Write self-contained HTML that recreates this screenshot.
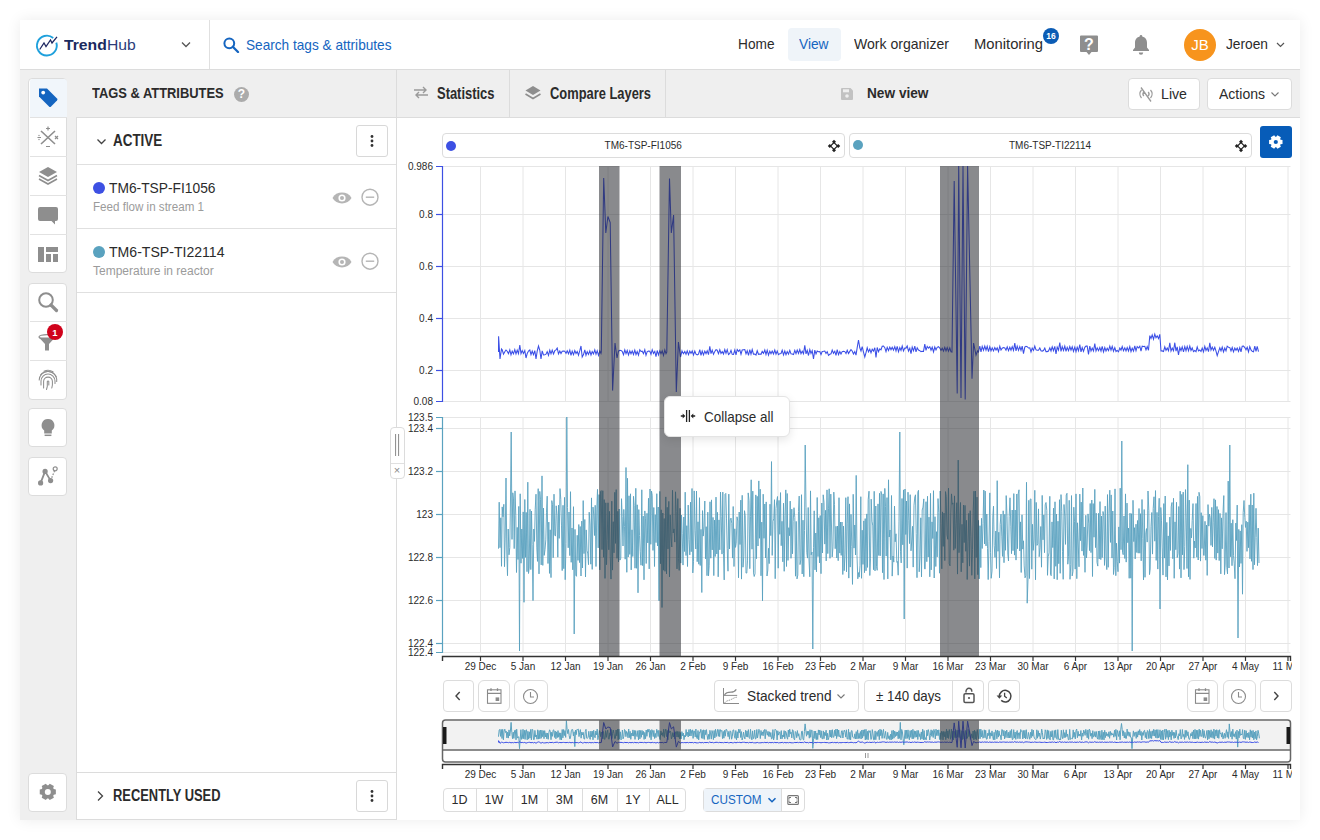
<!DOCTYPE html>
<html><head><meta charset="utf-8"><style>
html,body{margin:0;padding:0;}
body{width:1320px;height:840px;overflow:hidden;position:relative;background:#fff;font-family:"Liberation Sans",sans-serif;}
.t{position:absolute;white-space:nowrap;line-height:1;}
</style></head><body>
<div style="position:absolute;left:20px;top:20px;width:1280px;height:800px;box-sizing:border-box;background:#efefef;box-shadow:0 0 14px rgba(0,0,0,0.08);"></div>
<div style="position:absolute;left:20px;top:20px;width:1280px;height:49px;box-sizing:border-box;background:#fff;"></div>
<div style="position:absolute;left:20px;top:69px;width:1280px;height:1px;box-sizing:border-box;background:#dcdcdc;"></div>
<div style="position:absolute;left:209px;top:20px;width:1px;height:49px;box-sizing:border-box;background:#e0e0e0;"></div>
<svg style="position:absolute;left:34px;top:33px;" width="26" height="24" viewBox="0 0 26 24"><path d="M19.2 5.0 A9.9 9.9 0 1 0 22.3 9.6" fill="none" stroke="#1ea0dc" stroke-width="1.9"/><path d="M5.7 16.5 L10 10 L12 13.5 L16.5 7 L18 10 L23 3.8" fill="none" stroke="#1d2660" stroke-width="1.25" stroke-linejoin="miter"/></svg>
<div class="t" style="left:64.00px;top:37.00px;font-size:15px;color:#1b2a5e;font-weight:bold;transform:scaleX(1.0474);transform-origin:0 0;">Trend</div>
<div class="t" style="left:106.78px;top:37.00px;font-size:15px;color:#2b3c7a;transform:scaleX(1.0474);transform-origin:0 0;">Hub</div>
<svg style="position:absolute;left:180px;top:41px;" width="12" height="8" viewBox="0 0 12 8"><path d="M2 1.5 L6 5.5 L10 1.5" fill="none" stroke="#555" stroke-width="1.3"/></svg>
<svg style="position:absolute;left:223px;top:37px;" width="17" height="16" viewBox="0 0 17 16"><circle cx="6.3" cy="6.3" r="4.9" fill="none" stroke="#1565c0" stroke-width="2"/><path d="M9.8 9.8 L15 15" stroke="#1565c0" stroke-width="2.3" stroke-linecap="round"/></svg>
<div class="t" style="left:246.00px;top:37.00px;font-size:15px;color:#1565c0;transform:scaleX(0.9089);transform-origin:0 0;">Search tags &amp; attributes</div>
<div style="position:absolute;left:788px;top:28px;width:53px;height:33px;box-sizing:border-box;background:#eff4f9;border-radius:4px;"></div>
<div class="t" style="left:737.50px;top:35.50px;font-size:15px;color:#2b2b2b;transform:scaleX(0.9122);transform-origin:0 0;">Home</div>
<div class="t" style="left:799.00px;top:35.50px;font-size:15px;color:#1565c0;transform:scaleX(0.9149);transform-origin:0 0;">View</div>
<div class="t" style="left:854.00px;top:35.50px;font-size:15px;color:#2b2b2b;transform:scaleX(0.9366);transform-origin:0 0;">Work organizer</div>
<div class="t" style="left:974.00px;top:35.50px;font-size:15px;color:#2b2b2b;transform:scaleX(0.9852);transform-origin:0 0;">Monitoring</div>
<div style="position:absolute;left:1043px;top:28px;width:16px;height:16px;box-sizing:border-box;background:#0b5cb5;border-radius:50%;"></div>
<div class="t" style="left:1046.27px;top:32.30px;font-size:8.5px;color:#fff;font-weight:bold;">16</div>
<svg style="position:absolute;left:1079px;top:34px;" width="20" height="22" viewBox="0 0 20 22"><path d="M2 1.5 h16 a1 1 0 0 1 1 1 v14.5 a1 1 0 0 1 -1 1 h-5.5 l-2.5 3 l-2.5 -3 h-5.5 a1 1 0 0 1 -1 -1 v-14.5 a1 1 0 0 1 1 -1z" fill="#8e8e8e"/><text x="10" y="15.5" font-family="Liberation Sans" font-weight="bold" font-size="16" fill="#fff" text-anchor="middle">?</text></svg>
<svg style="position:absolute;left:1131px;top:34px;" width="20" height="22" viewBox="0 0 20 22"><path d="M10 2.5 c-3.8 0 -6 2.8 -6 6.3 v4.6 l-2 2.6 v1 h16 v-1 l-2 -2.6 v-4.6 c0 -3.5 -2.2 -6.3 -6 -6.3z" fill="#8e8e8e"/><circle cx="10" cy="2.3" r="1.3" fill="#8e8e8e"/><path d="M7.8 18.5 a2.2 2.2 0 0 0 4.4 0z" fill="#8e8e8e"/></svg>
<div style="position:absolute;left:1184px;top:29px;width:32px;height:32px;box-sizing:border-box;background:#f7941d;border-radius:50%;"></div>
<div class="t" style="left:1191.25px;top:36.90px;font-size:15px;color:#fff;">JB</div>
<div class="t" style="left:1226.00px;top:36.00px;font-size:15px;color:#2b2b2b;transform:scaleX(0.9157);transform-origin:0 0;">Jeroen</div>
<svg style="position:absolute;left:1275px;top:41px;" width="12" height="8" viewBox="0 0 12 8"><path d="M2 2 L5.5 5.5 L9 2" fill="none" stroke="#555" stroke-width="1.2"/></svg>
<div style="position:absolute;left:28px;top:78px;width:39.3px;height:195px;box-sizing:border-box;background:#fff;border:1px solid #dcdcdc;border-radius:4px;"></div>
<div style="position:absolute;left:30px;top:79px;width:37px;height:38px;box-sizing:border-box;background:#f1f6fb;border-radius:3px 3px 0 0;"></div>
<div style="position:absolute;left:30px;top:117px;width:37px;height:1px;box-sizing:border-box;background:#e2e2e2;"></div>
<div style="position:absolute;left:30px;top:156px;width:37px;height:1px;box-sizing:border-box;background:#e2e2e2;"></div>
<div style="position:absolute;left:30px;top:195px;width:37px;height:1px;box-sizing:border-box;background:#e2e2e2;"></div>
<div style="position:absolute;left:30px;top:234px;width:37px;height:1px;box-sizing:border-box;background:#e2e2e2;"></div>
<div style="position:absolute;left:28px;top:283px;width:39.3px;height:117px;box-sizing:border-box;background:#fff;border:1px solid #dcdcdc;border-radius:4px;"></div>
<div style="position:absolute;left:30px;top:321px;width:37px;height:1px;box-sizing:border-box;background:#e2e2e2;"></div>
<div style="position:absolute;left:30px;top:360px;width:37px;height:1px;box-sizing:border-box;background:#e2e2e2;"></div>
<div style="position:absolute;left:28px;top:408px;width:39.3px;height:39px;box-sizing:border-box;background:#fff;border:1px solid #dcdcdc;border-radius:4px;"></div>
<div style="position:absolute;left:28px;top:457px;width:39.3px;height:39px;box-sizing:border-box;background:#fff;border:1px solid #dcdcdc;border-radius:4px;"></div>
<div style="position:absolute;left:28px;top:772.5px;width:39.3px;height:39px;box-sizing:border-box;background:#fff;border:1px solid #dcdcdc;border-radius:4px;"></div>
<svg style="position:absolute;left:36px;top:85px;" width="24" height="24" viewBox="0 0 24 24"><path d="M3 3.5 h8 l10 10 a1.5 1.5 0 0 1 0 2.1 l-5.9 5.9 a1.5 1.5 0 0 1 -2.1 0 l-10 -10 v-8z" fill="#1565c0" transform="rotate(0)"/><circle cx="7.2" cy="7.6" r="1.9" fill="#fff"/></svg>
<svg style="position:absolute;left:36px;top:125px;" width="24" height="24" viewBox="0 0 24 24"><path d="M5 6 L19 19 M19 6 L5 19" stroke="#8e8e8e" stroke-width="1.6"/><path d="M12 1.5 v4 M10 3.5 h4 M10 21.5 h4 M1.5 12.5 h3.5 M19 11 l3 3 M22 11 l-3 3" stroke="#8e8e8e" stroke-width="1.2"/><circle cx="3" cy="10.5" r=".7" fill="#8e8e8e"/><circle cx="3" cy="14.5" r=".7" fill="#8e8e8e"/></svg>
<svg style="position:absolute;left:36px;top:164px;" width="24" height="24" viewBox="0 0 24 24"><path d="M12 3 L21 8 L12 13 L3 8z" fill="#8e8e8e"/><path d="M3 11.5 L12 16.5 L21 11.5 M3 15 L12 20 L21 15" fill="none" stroke="#8e8e8e" stroke-width="1.6"/></svg>
<svg style="position:absolute;left:36px;top:203px;" width="24" height="24" viewBox="0 0 24 24"><path d="M4 4 h16 a2 2 0 0 1 2 2 v10 a2 2 0 0 1 -2 2 h-1 v3.5 l-3.5 -3.5 h-11.5 a2 2 0 0 1 -2 -2 v-10 a2 2 0 0 1 2 -2z" fill="#8e8e8e"/></svg>
<svg style="position:absolute;left:36px;top:242px;" width="24" height="24" viewBox="0 0 24 24"><path d="M2 5 h6 v15 h-6z M10 5 h12 v5 h-12z M10 12 h5 v8 h-5z M17 12 h5 v8 h-5z" fill="#8e8e8e"/></svg>
<svg style="position:absolute;left:36px;top:290px;" width="24" height="24" viewBox="0 0 24 24"><circle cx="10" cy="10" r="6.8" fill="none" stroke="#8e8e8e" stroke-width="2"/><path d="M15 15 L20.5 20.5" stroke="#8e8e8e" stroke-width="3.2" stroke-linecap="round"/></svg>
<svg style="position:absolute;left:36px;top:329px;" width="24" height="24" viewBox="0 0 24 24"><ellipse cx="11" cy="8" rx="8" ry="2.3" fill="none" stroke="#8e8e8e" stroke-width="1.3"/><path d="M3 8.5 L9 15 v6.5 h4 v-6.5 L19 8.5z" fill="#8e8e8e"/></svg>
<div style="position:absolute;left:47px;top:324px;width:16px;height:16px;box-sizing:border-box;background:#d0021b;border-radius:50%;"></div>
<div class="t" style="left:52.36px;top:327.96px;font-size:9.5px;color:#fff;font-weight:bold;">1</div>
<svg style="position:absolute;left:36px;top:368px;" width="24" height="24" viewBox="0 0 24 24"><g fill="none" stroke="#8e8e8e" stroke-width="1.05" stroke-linecap="round"><path d="M8 3.2 a9 8 0 0 1 9 0.6"/><path d="M4.5 7 a9 8.5 0 0 1 15.5 1.5"/><path d="M3.2 12 a8.8 8.8 0 0 1 17.5 -1 v2.5"/><path d="M5 17 v-4 a7 7 0 0 1 14 0 v2.5"/><path d="M7.6 20 v-6.5 a4.4 4.4 0 0 1 8.8 0 v3.5 l-0.6 3"/><path d="M10.5 21.5 l0.8 -3 v-5 a0.8 0.8 0 0 1 1.5 0 v3.5"/></g></svg>
<svg style="position:absolute;left:36px;top:416px;" width="24" height="24" viewBox="0 0 24 24"><path d="M12 3 a6.3 6.3 0 0 0 -3.8 11.4 v3 h7.6 v-3 A6.3 6.3 0 0 0 12 3z" fill="#8e8e8e"/><path d="M8.6 19.3 h6.8" stroke="#8e8e8e" stroke-width="1.5"/></svg>
<svg style="position:absolute;left:36px;top:465px;" width="24" height="24" viewBox="0 0 24 24"><path d="M4.6 17.9 L9.1 6.4 L14.6 15.6" fill="none" stroke="#8e8e8e" stroke-width="1.8"/><path d="M14.6 15.6 L18.5 6" fill="none" stroke="#8e8e8e" stroke-width="1.2" stroke-dasharray="1.6 1.4"/><circle cx="4.6" cy="17.9" r="2.6" fill="#8e8e8e"/><circle cx="9.1" cy="6.4" r="2.6" fill="#8e8e8e"/><circle cx="14.6" cy="15.6" r="2.6" fill="#8e8e8e"/><circle cx="19.2" cy="3.8" r="2" fill="none" stroke="#8e8e8e" stroke-width="1.2"/></svg>
<svg style="position:absolute;left:36px;top:780px;" width="24" height="24" viewBox="0 0 24 24"><path d="M17.79 9.12 L19.85 9.51 L19.85 14.29 L17.79 14.68 L17.20 15.70 L17.89 17.68 L13.76 20.07 L12.39 18.47 L11.21 18.47 L9.84 20.07 L5.71 17.68 L6.40 15.70 L5.81 14.68 L3.75 14.29 L3.75 9.51 L5.81 9.12 L6.40 8.10 L5.71 6.12 L9.84 3.73 L11.21 5.33 L12.39 5.33 L13.76 3.73 L17.89 6.12 L17.20 8.10Z" fill="#8e8e8e"/><circle cx="11.8" cy="11.9" r="3" fill="#fff"/></svg>
<div class="t" style="left:92.30px;top:84.98px;font-size:15.5px;color:#2b2b2b;font-weight:bold;transform:scaleX(0.8327);transform-origin:0 0;">TAGS &amp; ATTRIBUTES</div>
<div style="position:absolute;left:234px;top:86.5px;width:15px;height:15px;box-sizing:border-box;background:#ababab;border-radius:50%;"></div>
<div class="t" style="left:237.83px;top:88.34px;font-size:12px;color:#fff;font-weight:bold;">?</div>
<div style="position:absolute;left:76px;top:117px;width:321px;height:703px;box-sizing:border-box;background:#fff;border:1px solid #dcdcdc;border-right:1px solid #dcdcdc;"></div>
<div style="position:absolute;left:77px;top:164px;width:319px;height:1px;box-sizing:border-box;background:#e0e0e0;"></div>
<div style="position:absolute;left:77px;top:228px;width:319px;height:1px;box-sizing:border-box;background:#e0e0e0;"></div>
<div style="position:absolute;left:77px;top:292px;width:319px;height:1px;box-sizing:border-box;background:#e0e0e0;"></div>
<svg style="position:absolute;left:95.5px;top:137.5px;" width="12" height="8" viewBox="0 0 12 8"><path d="M1.5 1.5 L5.5 5.5 L9.5 1.5" fill="none" stroke="#444" stroke-width="1.3"/></svg>
<div class="t" style="left:113.00px;top:133.06px;font-size:16px;color:#2b2b2b;font-weight:bold;transform:scaleX(0.8385);transform-origin:0 0;">ACTIVE</div>
<div style="position:absolute;left:356px;top:125px;width:32px;height:32px;box-sizing:border-box;background:#fff;border:1px solid #d8d8d8;border-radius:3px;"></div>
<svg style="position:absolute;left:368px;top:134px;" width="8" height="14" viewBox="0 0 8 14"><circle cx="4" cy="2.5" r="1.4" fill="#333"/><circle cx="4" cy="7" r="1.4" fill="#333"/><circle cx="4" cy="11.5" r="1.4" fill="#333"/></svg>
<div style="position:absolute;left:93px;top:182px;width:12px;height:12px;box-sizing:border-box;background:#3d50e3;border-radius:50%;"></div>
<div class="t" style="left:109.00px;top:179.90px;font-size:15px;color:#2b2b2b;transform:scaleX(0.9192);transform-origin:0 0;">TM6-TSP-FI1056</div>
<div class="t" style="left:93.00px;top:201.14px;font-size:12px;color:#9b9b9b;transform:scaleX(0.9676);transform-origin:0 0;">Feed flow in stream 1</div>
<svg style="position:absolute;left:331px;top:189px;" width="22" height="18" viewBox="0 0 22 18"><path d="M1.5 9 C5 1.8 17 1.8 20.5 9 C17 16.2 5 16.2 1.5 9z" fill="#b5b5b5"/><circle cx="11" cy="9" r="3.6" fill="#fff"/><circle cx="11" cy="9" r="2" fill="#b5b5b5"/></svg>
<svg style="position:absolute;left:361px;top:188px;" width="18" height="18" viewBox="0 0 18 18"><circle cx="9" cy="9.2" r="8" fill="none" stroke="#b5b5b5" stroke-width="1.4"/><path d="M4.8 9.2 h8.4" stroke="#b5b5b5" stroke-width="1.4"/></svg>
<div style="position:absolute;left:93px;top:246px;width:12px;height:12px;box-sizing:border-box;background:#5aa2bf;border-radius:50%;"></div>
<div class="t" style="left:109.00px;top:243.90px;font-size:15px;color:#2b2b2b;transform:scaleX(0.9383);transform-origin:0 0;">TM6-TSP-TI22114</div>
<div class="t" style="left:93.00px;top:265.14px;font-size:12px;color:#9b9b9b;">Temperature in reactor</div>
<svg style="position:absolute;left:331px;top:253px;" width="22" height="18" viewBox="0 0 22 18"><path d="M1.5 9 C5 1.8 17 1.8 20.5 9 C17 16.2 5 16.2 1.5 9z" fill="#b5b5b5"/><circle cx="11" cy="9" r="3.6" fill="#fff"/><circle cx="11" cy="9" r="2" fill="#b5b5b5"/></svg>
<svg style="position:absolute;left:361px;top:252px;" width="18" height="18" viewBox="0 0 18 18"><circle cx="9" cy="9.2" r="8" fill="none" stroke="#b5b5b5" stroke-width="1.4"/><path d="M4.8 9.2 h8.4" stroke="#b5b5b5" stroke-width="1.4"/></svg>
<div style="position:absolute;left:77px;top:772px;width:319px;height:1px;box-sizing:border-box;background:#dcdcdc;"></div>
<svg style="position:absolute;left:96px;top:790px;" width="10" height="12" viewBox="0 0 10 12"><path d="M2 1.5 L6.5 6 L2 10.5" fill="none" stroke="#444" stroke-width="1.3"/></svg>
<div class="t" style="left:113.00px;top:788.06px;font-size:16px;color:#2b2b2b;font-weight:bold;transform:scaleX(0.8060);transform-origin:0 0;">RECENTLY USED</div>
<div style="position:absolute;left:356px;top:780px;width:32px;height:32px;box-sizing:border-box;background:#fff;border:1px solid #d8d8d8;border-radius:3px;"></div>
<svg style="position:absolute;left:368px;top:789px;" width="8" height="14" viewBox="0 0 8 14"><circle cx="4" cy="2.5" r="1.4" fill="#333"/><circle cx="4" cy="7" r="1.4" fill="#333"/><circle cx="4" cy="11.5" r="1.4" fill="#333"/></svg>
<div style="position:absolute;left:396px;top:69px;width:1px;height:48px;box-sizing:border-box;background:#dcdcdc;"></div>
<div style="position:absolute;left:509px;top:69px;width:1px;height:48px;box-sizing:border-box;background:#dcdcdc;"></div>
<div style="position:absolute;left:665px;top:69px;width:1px;height:48px;box-sizing:border-box;background:#dcdcdc;"></div>
<div style="position:absolute;left:397px;top:117px;width:903px;height:1px;box-sizing:border-box;background:#dcdcdc;"></div>
<svg style="position:absolute;left:412px;top:85px;" width="18" height="14" viewBox="0 0 18 14"><path d="M2 5 h12 M11 2 l3 3 -3 3 M16 10 h-12 M7 7 l-3 3 3 3" fill="none" stroke="#9a9a9a" stroke-width="1.4"/></svg>
<div class="t" style="left:437.00px;top:86.46px;font-size:16px;color:#2b2b2b;font-weight:bold;transform:scaleX(0.8082);transform-origin:0 0;">Statistics</div>
<svg style="position:absolute;left:524px;top:84px;" width="18" height="18" viewBox="0 0 18 18"><path d="M9 2 L16.5 6.5 L9 11 L1.5 6.5z" fill="#8e8e8e"/><path d="M1.5 10 L9 14.5 L16.5 10" fill="none" stroke="#8e8e8e" stroke-width="1.6"/></svg>
<div class="t" style="left:549.50px;top:86.46px;font-size:16px;color:#2b2b2b;font-weight:bold;transform:scaleX(0.8055);transform-origin:0 0;">Compare Layers</div>
<svg style="position:absolute;left:840px;top:87px;" width="14" height="14" viewBox="0 0 14 14"><path d="M2 1 h8.5 l2.5 2.5 v8.5 a1 1 0 0 1 -1 1 h-10 a1 1 0 0 1 -1 -1 v-10 a1 1 0 0 1 1 -1z" fill="#c2c2c2"/><rect x="3" y="2.3" width="6" height="3" fill="#efefef"/><circle cx="7" cy="9" r="1.8" fill="#efefef"/></svg>
<div class="t" style="left:867.00px;top:84.88px;font-size:15.5px;color:#2b2b2b;font-weight:bold;transform:scaleX(0.8813);transform-origin:0 0;">New view</div>
<div style="position:absolute;left:1128px;top:78px;width:72px;height:32px;box-sizing:border-box;background:#fff;border:1px solid #dcdcdc;border-radius:4px;"></div>
<svg style="position:absolute;left:1137px;top:86px;" width="18" height="17" viewBox="0 0 18 17"><path d="M4.5 4 a6 6 0 0 0 0 8 M13.5 4 a6 6 0 0 1 0 8 M6.8 6 a3 3 0 0 0 0 4 M11.2 6 a3 3 0 0 1 0 4 M4 1.5 L14 15.5" fill="none" stroke="#9a9a9a" stroke-width="1.3"/></svg>
<div class="t" style="left:1161.00px;top:86.30px;font-size:15px;color:#2b2b2b;transform:scaleX(0.9448);transform-origin:0 0;">Live</div>
<div style="position:absolute;left:1207px;top:78px;width:85px;height:32px;box-sizing:border-box;background:#fff;border:1px solid #dcdcdc;border-radius:4px;"></div>
<div class="t" style="left:1219.00px;top:86.30px;font-size:15px;color:#2b2b2b;transform:scaleX(0.9351);transform-origin:0 0;">Actions</div>
<svg style="position:absolute;left:1270px;top:91px;" width="10" height="7" viewBox="0 0 10 7"><path d="M1.5 1.5 L5 5 L8.5 1.5" fill="none" stroke="#777" stroke-width="1.1"/></svg>
<div style="position:absolute;left:397px;top:118px;width:903px;height:702px;box-sizing:border-box;background:#fff;"></div>
<div style="position:absolute;left:441.7px;top:133.2px;width:403.5px;height:24.5px;box-sizing:border-box;background:#fff;border:1px solid #dcdcdc;border-radius:4px;"></div>
<div style="position:absolute;left:848.8px;top:133.2px;width:403.5px;height:24.5px;box-sizing:border-box;background:#fff;border:1px solid #dcdcdc;border-radius:4px;"></div>
<div style="position:absolute;left:446px;top:140.5px;width:10px;height:10px;box-sizing:border-box;background:#3d50e3;border-radius:50%;"></div>
<div style="position:absolute;left:853px;top:140.3px;width:10px;height:10px;box-sizing:border-box;background:#5aa2bf;border-radius:50%;"></div>
<div class="t" style="left:604.58px;top:140.53px;font-size:10px;color:#2b2b2b;">TM6-TSP-FI1056</div>
<div class="t" style="left:1008.97px;top:140.53px;font-size:10px;color:#2b2b2b;">TM6-TSP-TI22114</div>
<svg style="position:absolute;left:826.6px;top:138.9px;" width="14" height="14" viewBox="0 0 14 14"><path d="M7 3.5 L3.5 7 L7 10.5 L10.5 7z" fill="none" stroke="#222" stroke-width="1.1"/><path d="M7 0.8 L9 2.8 L7 4.8 L5 2.8z M7 9.2 L9 11.2 L7 13.2 L5 11.2z M0.8 7 L2.8 5 L4.8 7 L2.8 9z M9.2 7 L11.2 5 L13.2 7 L11.2 9z" fill="#222"/></svg>
<svg style="position:absolute;left:1233.8px;top:138.8px;" width="14" height="14" viewBox="0 0 14 14"><path d="M7 3.5 L3.5 7 L7 10.5 L10.5 7z" fill="none" stroke="#222" stroke-width="1.1"/><path d="M7 0.8 L9 2.8 L7 4.8 L5 2.8z M7 9.2 L9 11.2 L7 13.2 L5 11.2z M0.8 7 L2.8 5 L4.8 7 L2.8 9z M9.2 7 L11.2 5 L13.2 7 L11.2 9z" fill="#222"/></svg>
<div style="position:absolute;left:1260px;top:126px;width:32px;height:32px;box-sizing:border-box;background:#075cb8;border-radius:3px;"></div>
<svg style="position:absolute;left:1267px;top:133px;" width="18" height="18" viewBox="0 0 18 18"><path d="M13.61 6.77 L15.51 7.01 L15.51 10.99 L13.61 11.23 L13.14 12.05 L13.88 13.82 L10.43 15.81 L9.27 14.28 L8.33 14.28 L7.17 15.81 L3.72 13.82 L4.46 12.05 L3.99 11.23 L2.09 10.99 L2.09 7.01 L3.99 6.77 L4.46 5.95 L3.72 4.18 L7.17 2.19 L8.33 3.72 L9.27 3.72 L10.43 2.19 L13.88 4.18 L13.14 5.95Z" fill="#fff"/><circle cx="8.8" cy="9" r="2.1" fill="#075cb8"/></svg>
<svg style="position:absolute;left:0px;top:0px;pointer-events:none;" width="1320" height="840" viewBox="0 0 1320 840"><line x1="442.5" y1="166.5" x2="1290.5" y2="166.5" stroke="#e6e6e6" stroke-width="1"/><line x1="442.5" y1="214.5" x2="1290.5" y2="214.5" stroke="#e6e6e6" stroke-width="1"/><line x1="442.5" y1="266.5" x2="1290.5" y2="266.5" stroke="#e6e6e6" stroke-width="1"/><line x1="442.5" y1="318.5" x2="1290.5" y2="318.5" stroke="#e6e6e6" stroke-width="1"/><line x1="442.5" y1="370.5" x2="1290.5" y2="370.5" stroke="#e6e6e6" stroke-width="1"/><line x1="442.5" y1="401.5" x2="1290.5" y2="401.5" stroke="#e6e6e6" stroke-width="1"/><line x1="442.5" y1="417.5" x2="1290.5" y2="417.5" stroke="#e6e6e6" stroke-width="1"/><line x1="442.5" y1="428.5" x2="1290.5" y2="428.5" stroke="#e6e6e6" stroke-width="1"/><line x1="442.5" y1="471.5" x2="1290.5" y2="471.5" stroke="#e6e6e6" stroke-width="1"/><line x1="442.5" y1="514.5" x2="1290.5" y2="514.5" stroke="#e6e6e6" stroke-width="1"/><line x1="442.5" y1="557.5" x2="1290.5" y2="557.5" stroke="#e6e6e6" stroke-width="1"/><line x1="442.5" y1="600.5" x2="1290.5" y2="600.5" stroke="#e6e6e6" stroke-width="1"/><line x1="442.5" y1="643.5" x2="1290.5" y2="643.5" stroke="#e6e6e6" stroke-width="1"/><line x1="442.5" y1="652.5" x2="1290.5" y2="652.5" stroke="#e6e6e6" stroke-width="1"/><line x1="480.5" y1="166.5" x2="480.5" y2="401.5" stroke="#e6e6e6" stroke-width="1"/><line x1="480.5" y1="417.5" x2="480.5" y2="652.5" stroke="#e6e6e6" stroke-width="1"/><line x1="523.0" y1="166.5" x2="523.0" y2="401.5" stroke="#e6e6e6" stroke-width="1"/><line x1="523.0" y1="417.5" x2="523.0" y2="652.5" stroke="#e6e6e6" stroke-width="1"/><line x1="565.5" y1="166.5" x2="565.5" y2="401.5" stroke="#e6e6e6" stroke-width="1"/><line x1="565.5" y1="417.5" x2="565.5" y2="652.5" stroke="#e6e6e6" stroke-width="1"/><line x1="608.0" y1="166.5" x2="608.0" y2="401.5" stroke="#e6e6e6" stroke-width="1"/><line x1="608.0" y1="417.5" x2="608.0" y2="652.5" stroke="#e6e6e6" stroke-width="1"/><line x1="650.5" y1="166.5" x2="650.5" y2="401.5" stroke="#e6e6e6" stroke-width="1"/><line x1="650.5" y1="417.5" x2="650.5" y2="652.5" stroke="#e6e6e6" stroke-width="1"/><line x1="693.0" y1="166.5" x2="693.0" y2="401.5" stroke="#e6e6e6" stroke-width="1"/><line x1="693.0" y1="417.5" x2="693.0" y2="652.5" stroke="#e6e6e6" stroke-width="1"/><line x1="735.5" y1="166.5" x2="735.5" y2="401.5" stroke="#e6e6e6" stroke-width="1"/><line x1="735.5" y1="417.5" x2="735.5" y2="652.5" stroke="#e6e6e6" stroke-width="1"/><line x1="778.0" y1="166.5" x2="778.0" y2="401.5" stroke="#e6e6e6" stroke-width="1"/><line x1="778.0" y1="417.5" x2="778.0" y2="652.5" stroke="#e6e6e6" stroke-width="1"/><line x1="820.5" y1="166.5" x2="820.5" y2="401.5" stroke="#e6e6e6" stroke-width="1"/><line x1="820.5" y1="417.5" x2="820.5" y2="652.5" stroke="#e6e6e6" stroke-width="1"/><line x1="863.0" y1="166.5" x2="863.0" y2="401.5" stroke="#e6e6e6" stroke-width="1"/><line x1="863.0" y1="417.5" x2="863.0" y2="652.5" stroke="#e6e6e6" stroke-width="1"/><line x1="905.5" y1="166.5" x2="905.5" y2="401.5" stroke="#e6e6e6" stroke-width="1"/><line x1="905.5" y1="417.5" x2="905.5" y2="652.5" stroke="#e6e6e6" stroke-width="1"/><line x1="948.0" y1="166.5" x2="948.0" y2="401.5" stroke="#e6e6e6" stroke-width="1"/><line x1="948.0" y1="417.5" x2="948.0" y2="652.5" stroke="#e6e6e6" stroke-width="1"/><line x1="990.5" y1="166.5" x2="990.5" y2="401.5" stroke="#e6e6e6" stroke-width="1"/><line x1="990.5" y1="417.5" x2="990.5" y2="652.5" stroke="#e6e6e6" stroke-width="1"/><line x1="1033.0" y1="166.5" x2="1033.0" y2="401.5" stroke="#e6e6e6" stroke-width="1"/><line x1="1033.0" y1="417.5" x2="1033.0" y2="652.5" stroke="#e6e6e6" stroke-width="1"/><line x1="1075.5" y1="166.5" x2="1075.5" y2="401.5" stroke="#e6e6e6" stroke-width="1"/><line x1="1075.5" y1="417.5" x2="1075.5" y2="652.5" stroke="#e6e6e6" stroke-width="1"/><line x1="1118.0" y1="166.5" x2="1118.0" y2="401.5" stroke="#e6e6e6" stroke-width="1"/><line x1="1118.0" y1="417.5" x2="1118.0" y2="652.5" stroke="#e6e6e6" stroke-width="1"/><line x1="1160.5" y1="166.5" x2="1160.5" y2="401.5" stroke="#e6e6e6" stroke-width="1"/><line x1="1160.5" y1="417.5" x2="1160.5" y2="652.5" stroke="#e6e6e6" stroke-width="1"/><line x1="1203.0" y1="166.5" x2="1203.0" y2="401.5" stroke="#e6e6e6" stroke-width="1"/><line x1="1203.0" y1="417.5" x2="1203.0" y2="652.5" stroke="#e6e6e6" stroke-width="1"/><line x1="1245.5" y1="166.5" x2="1245.5" y2="401.5" stroke="#e6e6e6" stroke-width="1"/><line x1="1245.5" y1="417.5" x2="1245.5" y2="652.5" stroke="#e6e6e6" stroke-width="1"/><line x1="1288.0" y1="166.5" x2="1288.0" y2="401.5" stroke="#e6e6e6" stroke-width="1"/><line x1="1288.0" y1="417.5" x2="1288.0" y2="652.5" stroke="#e6e6e6" stroke-width="1"/><path d="M498.5 352.0 L498.6 336.3 L500.0 359.0 L501.5 349.0 L502.2 349.8 L503.5 354.2 L504.8 351.7 L506.0 350.0 L507.2 351.2 L508.5 353.6 L509.8 349.9 L511.0 354.8 L512.2 351.2 L513.5 353.9 L514.8 349.6 L516.0 353.9 L517.2 350.2 L518.5 353.6 L519.8 345.0 L521.0 353.6 L522.2 350.6 L523.5 353.4 L524.8 350.5 L526.0 358.0 L527.2 353.5 L528.5 351.1 L529.8 350.0 L531.0 354.6 L532.2 351.0 L533.5 354.7 L534.8 350.7 L536.0 358.8 L537.2 351.1 L538.5 346.0 L539.8 350.3 L541.0 359.0 L542.2 350.9 L543.5 354.9 L544.8 354.8 L546.0 354.2 L547.2 351.6 L548.5 355.4 L549.8 350.1 L551.0 353.8 L552.2 350.1 L553.5 353.9 L554.8 350.7 L556.0 349.8 L557.2 348.1 L558.5 353.9 L559.8 351.0 L561.0 353.5 L562.2 351.2 L563.5 351.1 L564.8 351.3 L566.0 353.4 L567.2 350.7 L568.5 353.8 L569.8 350.1 L571.0 355.3 L572.2 351.1 L573.5 354.6 L574.8 350.6 L576.0 353.5 L577.2 351.4 L578.5 355.2 L579.8 350.7 L581.0 346.0 L582.2 357.0 L583.5 354.6 L584.8 349.8 L586.0 355.2 L587.2 351.7 L588.5 354.4 L589.8 350.9 L591.0 355.0 L592.2 351.5 L593.5 353.9 L594.8 349.9 L596.0 354.3 L597.2 350.7 L598.5 355.4 L599.8 351.0 L601.0 353.4 L601.3 352.0 L603.7 178.0 L605.8 233.0 L607.9 216.5 L610.2 222.5 L612.6 390.6 L615.0 343.0 L617.0 358.0 L618.5 351.0 L619.8 350.4 L621.0 350.6 L622.2 351.3 L623.5 354.7 L624.8 349.9 L626.0 353.6 L627.2 350.5 L628.5 354.9 L629.8 350.8 L631.0 353.9 L632.2 350.9 L633.5 354.5 L634.8 350.2 L636.0 354.5 L637.2 351.5 L638.5 355.1 L639.8 349.7 L641.0 351.5 L642.2 351.2 L643.5 353.7 L644.8 349.8 L646.0 355.3 L647.2 351.6 L648.5 351.0 L649.8 351.3 L651.0 354.3 L652.2 349.7 L653.5 353.5 L654.8 351.3 L656.0 356.6 L657.2 350.5 L658.5 354.9 L659.8 350.7 L661.0 353.6 L662.2 350.9 L663.5 355.5 L664.8 350.0 L666.0 353.6 L666.8 352.0 L669.5 178.5 L671.3 233.0 L673.6 215.0 L676.3 392.0 L678.4 342.0 L680.5 357.0 L682.0 351.0 L682.2 351.6 L683.5 353.8 L684.8 351.4 L686.0 354.3 L687.2 350.9 L688.5 354.6 L689.8 351.1 L691.0 353.4 L692.2 351.0 L693.5 355.0 L694.8 351.1 L696.0 354.2 L697.2 355.0 L698.5 354.2 L699.8 349.7 L701.0 355.3 L702.2 351.0 L703.5 354.9 L704.8 351.1 L706.0 353.6 L707.2 350.7 L708.5 354.6 L709.8 346.3 L711.0 353.6 L712.2 350.1 L713.5 354.3 L714.8 351.4 L716.0 349.6 L717.2 350.2 L718.5 353.6 L719.8 349.7 L721.0 353.5 L722.2 351.5 L723.5 354.0 L724.8 349.6 L726.0 353.4 L727.2 349.7 L728.5 354.6 L729.8 353.4 L731.0 350.4 L732.2 354.3 L733.5 354.5 L734.8 350.1 L736.0 354.8 L737.2 349.5 L738.5 351.4 L739.8 349.9 L741.0 354.2 L742.2 350.0 L743.5 349.7 L744.8 349.5 L746.0 353.9 L747.2 350.7 L748.5 355.4 L749.8 349.6 L751.0 354.1 L752.2 349.6 L753.5 354.2 L754.8 354.1 L756.0 355.0 L757.2 350.7 L758.5 354.3 L759.8 354.1 L761.0 354.3 L762.2 351.4 L763.5 353.4 L764.8 350.0 L766.0 354.5 L767.2 350.2 L768.5 355.1 L769.8 351.2 L771.0 353.8 L772.2 351.1 L773.5 354.0 L774.8 350.0 L776.0 354.1 L777.2 351.0 L778.5 354.7 L779.8 353.7 L781.0 353.5 L782.2 350.2 L783.5 355.0 L784.8 351.0 L786.0 354.7 L787.2 351.6 L788.5 354.2 L789.8 350.4 L791.0 353.9 L792.2 354.1 L793.5 354.6 L794.8 350.4 L796.0 353.6 L797.2 350.1 L798.5 353.5 L799.8 349.6 L801.0 353.7 L802.2 351.1 L803.5 353.7 L804.8 345.4 L806.0 353.9 L807.2 350.4 L808.5 355.5 L809.8 349.6 L811.0 353.4 L812.2 350.6 L813.5 359.0 L814.8 350.2 L816.0 354.0 L817.2 351.0 L818.5 351.7 L819.8 351.6 L821.0 354.5 L822.2 351.5 L823.5 351.3 L824.8 351.0 L826.0 353.5 L827.2 351.6 L828.5 355.3 L829.8 354.3 L831.0 353.8 L832.2 350.1 L833.5 353.3 L834.8 351.2 L836.0 355.4 L837.2 349.7 L838.5 354.7 L839.8 351.5 L841.0 354.0 L842.2 351.6 L843.5 351.2 L844.8 351.6 L846.0 353.6 L847.2 350.3 L848.5 353.5 L849.8 351.4 L851.0 349.7 L852.2 351.0 L853.5 354.0 L854.8 351.5 L856.0 355.1 L857.2 347.7 L858.5 340.0 L859.8 347.8 L861.0 351.0 L862.2 346.6 L863.5 352.1 L864.8 357.0 L866.0 352.6 L867.2 347.8 L868.5 351.9 L869.8 349.2 L871.0 352.8 L872.2 349.1 L873.5 351.1 L874.8 347.7 L876.0 357.4 L877.2 347.5 L878.5 351.8 L879.8 348.8 L881.0 349.9 L882.2 346.3 L883.5 346.0 L884.8 347.7 L886.0 351.7 L887.2 347.3 L888.5 350.5 L889.8 347.1 L891.0 349.8 L892.2 347.2 L893.5 350.2 L894.8 346.6 L896.0 350.9 L897.2 346.3 L898.5 351.8 L899.8 347.5 L901.0 350.4 L902.2 346.1 L903.5 350.9 L904.8 348.0 L906.0 348.1 L907.2 346.0 L908.5 351.1 L909.8 348.1 L911.0 353.7 L912.2 347.1 L913.5 350.8 L914.8 346.1 L916.0 351.9 L917.2 347.9 L918.5 350.1 L919.8 350.7 L921.0 351.6 L922.2 351.2 L923.5 351.4 L924.8 344.1 L926.0 350.3 L927.2 346.4 L928.5 348.2 L929.8 346.7 L931.0 350.2 L932.2 347.2 L933.5 351.9 L934.8 347.0 L936.0 349.9 L937.2 347.3 L938.5 346.7 L939.8 348.1 L941.0 350.4 L942.2 348.2 L943.5 351.0 L944.8 347.4 L946.0 350.9 L947.2 347.5 L948.5 351.2 L949.8 347.8 L951.0 351.8 L952.0 352.0 L954.2 181.0 L957.2 393.6 L958.7 166.0 L961.0 398.0 L963.0 166.0 L965.2 399.6 L967.6 166.0 L972.0 378.8 L973.6 343.0 L976.0 355.0 L977.5 351.0 L978.5 351.9 L979.8 346.0 L981.0 351.8 L982.2 346.4 L983.5 350.2 L984.8 346.1 L986.0 350.2 L987.2 346.3 L988.5 351.7 L989.8 346.8 L991.0 350.9 L992.2 347.8 L993.5 350.9 L994.8 347.6 L996.0 350.1 L997.2 347.9 L998.5 351.6 L999.8 346.2 L1001.0 350.1 L1002.2 348.2 L1003.5 347.6 L1004.8 347.9 L1006.0 350.2 L1007.2 346.9 L1008.5 350.7 L1009.8 347.3 L1011.0 350.3 L1012.2 346.7 L1013.5 350.4 L1014.8 343.1 L1016.0 350.8 L1017.2 346.2 L1018.5 350.3 L1019.8 346.6 L1021.0 350.5 L1022.2 346.2 L1023.5 353.7 L1024.8 347.1 L1026.0 346.3 L1027.2 346.7 L1028.5 348.0 L1029.8 347.9 L1031.0 352.0 L1032.2 348.1 L1033.5 350.5 L1034.8 346.1 L1036.0 349.8 L1037.2 350.2 L1038.5 350.3 L1039.8 348.0 L1041.0 350.8 L1042.2 351.1 L1043.5 350.5 L1044.8 348.0 L1046.0 351.6 L1047.2 351.6 L1048.5 351.0 L1049.8 347.9 L1051.0 351.0 L1052.2 346.8 L1053.5 350.7 L1054.8 346.3 L1056.0 354.0 L1057.2 347.1 L1058.5 350.1 L1059.8 342.5 L1061.0 351.5 L1062.2 346.6 L1063.5 350.4 L1064.8 346.0 L1066.0 351.4 L1067.2 347.3 L1068.5 350.7 L1069.8 346.5 L1071.0 350.2 L1072.2 346.8 L1073.5 351.4 L1074.8 347.1 L1076.0 351.7 L1077.2 347.2 L1078.5 350.8 L1079.8 344.5 L1081.0 351.8 L1082.2 347.5 L1083.5 351.3 L1084.8 347.3 L1086.0 346.1 L1087.2 346.1 L1088.5 354.3 L1089.8 346.0 L1091.0 351.1 L1092.2 348.0 L1093.5 350.9 L1094.8 343.7 L1096.0 351.0 L1097.2 347.8 L1098.5 350.6 L1099.8 347.5 L1101.0 351.1 L1102.2 346.4 L1103.5 351.9 L1104.8 347.5 L1106.0 351.1 L1107.2 348.2 L1108.5 350.6 L1109.8 346.1 L1111.0 350.1 L1112.2 346.3 L1113.5 351.2 L1114.8 347.6 L1116.0 351.5 L1117.2 350.4 L1118.5 351.8 L1119.8 348.0 L1121.0 350.1 L1122.2 346.5 L1123.5 350.8 L1124.8 347.9 L1126.0 350.9 L1127.2 347.5 L1128.5 351.0 L1129.8 346.6 L1131.0 351.7 L1132.2 348.1 L1133.5 351.1 L1134.8 346.0 L1136.0 350.8 L1137.2 346.5 L1138.5 348.0 L1139.8 346.3 L1141.0 351.1 L1142.2 346.2 L1143.5 346.5 L1144.8 346.3 L1146.0 349.9 L1147.2 346.6 L1148.5 350.2 L1149.8 335.6 L1151.0 338.5 L1152.2 334.9 L1153.5 339.2 L1154.8 334.2 L1156.0 337.8 L1157.2 335.8 L1158.5 338.6 L1159.8 334.4 L1161.0 351.0 L1162.2 350.9 L1163.5 351.5 L1164.8 346.8 L1166.0 350.4 L1167.2 348.0 L1168.5 350.8 L1169.8 342.9 L1171.0 351.1 L1172.2 348.1 L1173.5 350.8 L1174.8 342.7 L1176.0 351.1 L1177.2 346.9 L1178.5 355.0 L1179.8 347.5 L1181.0 350.7 L1182.2 346.9 L1183.5 351.8 L1184.8 346.6 L1186.0 350.8 L1187.2 346.4 L1188.5 350.9 L1189.8 346.1 L1191.0 350.4 L1192.2 347.9 L1193.5 351.6 L1194.8 350.5 L1196.0 351.7 L1197.2 346.9 L1198.5 350.9 L1199.8 350.0 L1201.0 351.5 L1202.2 348.1 L1203.5 351.9 L1204.8 346.3 L1206.0 350.5 L1207.2 347.9 L1208.5 351.7 L1209.8 342.9 L1211.0 350.1 L1212.2 347.1 L1213.5 350.3 L1214.8 347.3 L1216.0 351.2 L1217.2 355.7 L1218.5 351.6 L1219.8 347.8 L1221.0 350.9 L1222.2 347.1 L1223.5 352.0 L1224.8 348.0 L1226.0 350.9 L1227.2 346.2 L1228.5 347.3 L1229.8 347.6 L1231.0 351.0 L1232.2 347.5 L1233.5 351.8 L1234.8 348.0 L1236.0 350.3 L1237.2 348.0 L1238.5 351.4 L1239.8 347.6 L1241.0 351.8 L1242.2 346.2 L1243.5 346.1 L1244.8 347.6 L1246.0 349.8 L1247.2 347.3 L1248.5 351.9 L1249.8 346.5 L1251.0 349.9 L1252.2 351.3 L1253.5 351.8 L1254.8 346.1 L1256.0 351.4 L1257.2 346.3 L1258.5 351.7" fill="none" stroke="#3a4ee6" stroke-width="1.05" stroke-linejoin="miter" stroke-miterlimit="4"/><path d="M498.5 548.7 L499.2 502.2 L500.0 547.7 L500.8 517.8 L501.5 566.3 L502.2 506.9 L503.0 516.8 L503.8 504.3 L504.5 566.7 L505.2 538.1 L506.0 478.0 L506.8 553.0 L507.5 575.7 L508.2 529.0 L509.0 554.8 L509.8 547.5 L510.5 499.0 L511.2 432.0 L512.0 539.4 L512.8 492.8 L513.5 498.9 L514.2 548.6 L515.0 490.9 L515.8 515.7 L516.5 572.5 L517.2 527.4 L518.0 559.5 L518.8 506.4 L519.5 651.0 L520.2 493.8 L521.0 563.2 L521.8 529.0 L522.5 558.4 L523.2 511.9 L524.0 602.3 L524.8 499.5 L525.5 557.4 L526.2 512.4 L527.0 571.7 L527.8 482.2 L528.5 573.5 L529.2 568.1 L530.0 509.3 L530.8 569.6 L531.5 511.0 L532.2 544.7 L533.0 600.6 L533.8 529.0 L534.5 541.4 L535.2 509.2 L536.0 494.2 L536.8 547.9 L537.5 561.4 L538.2 488.7 L539.0 573.9 L539.8 491.4 L540.5 499.7 L541.2 564.9 L542.0 475.9 L542.8 565.4 L543.5 508.1 L544.2 555.4 L545.0 549.7 L545.8 539.9 L546.5 512.2 L547.2 496.2 L548.0 563.5 L548.8 522.1 L549.5 573.4 L550.2 529.8 L551.0 577.6 L551.8 500.6 L552.5 504.4 L553.2 557.7 L554.0 494.2 L554.8 535.1 L555.5 536.1 L556.2 505.8 L557.0 515.5 L557.8 557.2 L558.5 505.2 L559.2 538.4 L560.0 488.6 L560.8 499.6 L561.5 525.9 L562.2 570.6 L563.0 505.3 L563.8 568.7 L564.5 497.4 L565.2 579.7 L566.0 543.3 L566.8 417.0 L567.5 507.6 L568.2 547.8 L569.0 512.0 L569.8 555.6 L570.5 491.7 L571.2 562.3 L572.0 528.0 L572.8 569.8 L573.5 506.7 L574.2 634.0 L575.0 529.4 L575.8 575.3 L576.5 576.3 L577.2 535.3 L578.0 560.4 L578.8 524.5 L579.5 562.6 L580.2 526.5 L581.0 576.0 L581.8 521.1 L582.5 568.0 L583.2 500.6 L584.0 553.6 L584.8 519.5 L585.5 577.0 L586.2 529.9 L587.0 550.5 L587.8 553.9 L588.5 564.7 L589.2 512.2 L590.0 525.1 L590.8 564.2 L591.5 497.9 L592.2 569.4 L593.0 507.1 L593.8 515.0 L594.5 535.5 L595.2 505.3 L596.0 566.5 L596.8 509.1 L597.5 489.4 L598.2 547.9 L599.0 494.6 L599.8 569.9 L600.5 491.5 L601.2 490.6 L602.0 549.6 L602.8 490.7 L603.5 557.3 L604.2 499.6 L605.0 578.4 L605.8 502.8 L606.5 564.7 L607.2 540.3 L608.0 502.8 L608.8 549.8 L609.5 511.4 L610.2 556.2 L611.0 579.1 L611.8 501.2 L612.5 570.1 L613.2 521.7 L614.0 552.8 L614.8 492.3 L615.5 543.4 L616.2 489.6 L617.0 558.3 L617.8 511.3 L618.5 562.0 L619.2 509.0 L620.0 560.1 L620.8 558.2 L621.5 498.7 L622.2 516.5 L623.0 546.0 L623.8 509.4 L624.5 526.5 L625.2 559.2 L626.0 467.5 L626.8 572.3 L627.5 478.3 L628.2 557.0 L629.0 495.8 L629.8 554.4 L630.5 493.8 L631.2 569.9 L632.0 529.8 L632.8 556.5 L633.5 496.3 L634.2 505.6 L635.0 568.2 L635.8 488.3 L636.5 568.3 L637.2 504.8 L638.0 592.8 L638.8 509.6 L639.5 535.5 L640.2 551.3 L641.0 565.2 L641.8 489.8 L642.5 565.6 L643.2 516.1 L644.0 579.8 L644.8 510.9 L645.5 518.8 L646.2 563.5 L647.0 513.3 L647.8 542.9 L648.5 498.3 L649.2 568.9 L650.0 489.0 L650.8 544.3 L651.5 491.1 L652.2 495.2 L653.0 550.4 L653.8 507.5 L654.5 566.5 L655.2 514.7 L656.0 542.6 L656.8 493.7 L657.5 545.9 L658.2 507.0 L659.0 600.8 L659.8 491.4 L660.5 563.7 L661.2 509.8 L662.0 607.5 L662.8 513.0 L663.5 570.2 L664.2 518.5 L665.0 571.3 L665.8 496.9 L666.5 573.9 L667.2 507.3 L668.0 548.9 L668.8 501.4 L669.5 576.9 L670.2 514.9 L671.0 536.5 L671.8 547.0 L672.5 490.3 L673.2 533.0 L674.0 528.9 L674.8 542.1 L675.5 491.8 L676.2 511.6 L677.0 568.9 L677.8 498.6 L678.5 558.6 L679.2 570.4 L680.0 508.3 L680.8 563.1 L681.5 515.0 L682.2 533.6 L683.0 565.1 L683.8 517.0 L684.5 551.5 L685.2 492.2 L686.0 555.5 L686.8 525.7 L687.5 566.5 L688.2 505.1 L689.0 539.4 L689.8 554.9 L690.5 502.2 L691.2 551.7 L692.0 488.5 L692.8 572.9 L693.5 561.5 L694.2 490.9 L695.0 530.3 L695.8 549.0 L696.5 491.0 L697.2 561.7 L698.0 521.8 L698.8 564.2 L699.5 497.7 L700.2 565.5 L701.0 529.4 L701.8 592.5 L702.5 510.6 L703.2 536.1 L704.0 526.8 L704.8 501.0 L705.5 558.8 L706.2 526.7 L707.0 575.7 L707.8 512.2 L708.5 575.9 L709.2 565.7 L710.0 501.8 L710.8 558.2 L711.5 499.9 L712.2 549.9 L713.0 517.4 L713.8 575.6 L714.5 520.1 L715.2 556.5 L716.0 497.1 L716.8 554.0 L717.5 512.4 L718.2 576.8 L719.0 519.9 L719.8 549.8 L720.5 492.0 L721.2 516.5 L722.0 554.1 L722.8 492.1 L723.5 553.6 L724.2 579.9 L725.0 494.3 L725.8 493.4 L726.5 518.9 L727.2 548.6 L728.0 571.2 L728.8 494.1 L729.5 549.0 L730.2 519.9 L731.0 518.1 L731.8 523.6 L732.5 558.1 L733.2 506.5 L734.0 566.5 L734.8 528.8 L735.5 547.4 L736.2 543.2 L737.0 516.8 L737.8 521.0 L738.5 577.8 L739.2 512.0 L740.0 544.5 L740.8 500.1 L741.5 579.1 L742.2 495.3 L743.0 567.2 L743.8 556.2 L744.5 510.7 L745.2 515.3 L746.0 573.1 L746.8 573.0 L747.5 560.9 L748.2 492.9 L749.0 500.6 L749.8 568.7 L750.5 516.8 L751.2 479.8 L752.0 549.2 L752.8 491.1 L753.5 572.9 L754.2 576.5 L755.0 573.7 L755.8 494.9 L756.5 558.7 L757.2 496.3 L758.0 546.0 L758.8 480.9 L759.5 538.3 L760.2 489.2 L761.0 575.8 L761.8 522.1 L762.5 600.8 L763.2 494.2 L764.0 538.3 L764.8 504.0 L765.5 558.0 L766.2 501.9 L767.0 576.0 L767.8 570.1 L768.5 548.3 L769.2 563.6 L770.0 504.2 L770.8 535.6 L771.5 461.6 L772.2 555.4 L773.0 521.4 L773.8 518.4 L774.5 499.7 L775.2 578.7 L776.0 508.4 L776.8 500.9 L777.5 496.5 L778.2 568.2 L779.0 500.4 L779.8 534.3 L780.5 492.6 L781.2 545.7 L782.0 521.3 L782.8 561.8 L783.5 503.2 L784.2 571.3 L785.0 515.7 L785.8 489.9 L786.5 566.5 L787.2 493.5 L788.0 560.4 L788.8 527.7 L789.5 535.7 L790.2 501.1 L791.0 558.3 L791.8 509.1 L792.5 553.8 L793.2 521.4 L794.0 507.7 L794.8 517.5 L795.5 576.2 L796.2 521.4 L797.0 578.9 L797.8 575.1 L798.5 511.6 L799.2 496.1 L800.0 564.6 L800.8 559.9 L801.5 494.7 L802.2 574.0 L803.0 520.2 L803.8 576.7 L804.5 530.5 L805.2 445.0 L806.0 507.3 L806.8 552.7 L807.5 558.1 L808.2 507.5 L809.0 560.0 L809.8 576.8 L810.5 490.9 L811.2 554.8 L812.0 552.1 L812.8 649.0 L813.5 547.7 L814.2 510.8 L815.0 569.9 L815.8 533.0 L816.5 571.9 L817.2 497.5 L818.0 556.6 L818.8 517.8 L819.5 563.0 L820.2 515.6 L821.0 573.7 L821.8 503.0 L822.5 553.0 L823.2 494.8 L824.0 502.3 L824.8 544.1 L825.5 510.3 L826.2 560.9 L827.0 489.9 L827.8 553.6 L828.5 508.8 L829.2 488.8 L830.0 558.3 L830.8 494.1 L831.5 526.0 L832.2 556.9 L833.0 546.9 L833.8 492.1 L834.5 504.5 L835.2 548.7 L836.0 526.3 L836.8 558.0 L837.5 526.0 L838.2 560.7 L839.0 497.7 L839.8 553.1 L840.5 522.0 L841.2 555.4 L842.0 522.0 L842.8 574.5 L843.5 526.1 L844.2 570.7 L845.0 554.2 L845.8 497.7 L846.5 571.8 L847.2 523.8 L848.0 496.7 L848.8 578.1 L849.5 503.9 L850.2 567.1 L851.0 514.3 L851.8 546.4 L852.5 584.4 L853.2 494.3 L854.0 548.1 L854.8 525.0 L855.5 555.0 L856.2 475.4 L857.0 555.6 L857.8 578.8 L858.5 572.6 L859.2 577.1 L860.0 565.3 L860.8 496.7 L861.5 578.3 L862.2 530.2 L863.0 564.4 L863.8 520.9 L864.5 572.7 L865.2 518.6 L866.0 570.8 L866.8 513.9 L867.5 567.4 L868.2 499.6 L869.0 491.2 L869.8 575.5 L870.5 558.8 L871.2 499.2 L872.0 521.2 L872.8 525.9 L873.5 569.7 L874.2 491.3 L875.0 570.9 L875.8 506.0 L876.5 566.5 L877.2 570.3 L878.0 503.9 L878.8 555.5 L879.5 493.3 L880.2 555.8 L881.0 491.4 L881.8 495.1 L882.5 572.7 L883.2 493.9 L884.0 579.5 L884.8 488.4 L885.5 506.6 L886.2 556.1 L887.0 497.6 L887.8 578.9 L888.5 479.8 L889.2 537.0 L890.0 530.0 L890.8 559.9 L891.5 495.5 L892.2 576.1 L893.0 556.0 L893.8 562.1 L894.5 506.1 L895.2 541.8 L896.0 533.8 L896.8 562.3 L897.5 561.5 L898.2 575.2 L899.0 521.2 L899.8 432.0 L900.5 551.3 L901.2 562.9 L902.0 498.5 L902.8 544.8 L903.5 489.9 L904.2 619.0 L905.0 489.0 L905.8 534.5 L906.5 501.0 L907.2 568.1 L908.0 492.2 L908.8 520.2 L909.5 543.6 L910.2 494.7 L911.0 550.8 L911.8 540.0 L912.5 526.3 L913.2 567.1 L914.0 505.2 L914.8 497.0 L915.5 494.8 L916.2 533.5 L917.0 577.7 L917.8 492.2 L918.5 490.3 L919.2 571.8 L920.0 556.4 L920.8 517.8 L921.5 576.9 L922.2 510.0 L923.0 507.1 L923.8 498.9 L924.5 568.8 L925.2 569.0 L926.0 501.7 L926.8 561.7 L927.5 496.3 L928.2 557.0 L929.0 517.1 L929.8 576.8 L930.5 493.4 L931.2 569.9 L932.0 521.9 L932.8 538.5 L933.5 490.7 L934.2 578.0 L935.0 516.7 L935.8 566.5 L936.5 531.7 L937.2 556.9 L938.0 498.6 L938.8 512.6 L939.5 573.2 L940.2 491.0 L941.0 523.6 L941.8 568.8 L942.5 511.9 L943.2 546.4 L944.0 513.1 L944.8 560.6 L945.5 491.6 L946.2 496.4 L947.0 534.9 L947.8 539.3 L948.5 488.2 L949.2 563.6 L950.0 565.8 L950.8 512.9 L951.5 493.9 L952.2 504.3 L953.0 502.9 L953.8 550.2 L954.5 495.9 L955.2 548.5 L956.0 523.6 L956.8 502.7 L957.5 574.1 L958.2 460.1 L959.0 552.7 L959.8 522.9 L960.5 502.5 L961.2 571.8 L962.0 524.3 L962.8 562.8 L963.5 505.0 L964.2 542.6 L965.0 505.4 L965.8 551.3 L966.5 520.3 L967.2 579.5 L968.0 541.6 L968.8 513.4 L969.5 566.1 L970.2 510.7 L971.0 536.3 L971.8 575.3 L972.5 549.7 L973.2 510.3 L974.0 491.2 L974.8 578.9 L975.5 491.0 L976.2 557.6 L977.0 497.1 L977.8 574.7 L978.5 520.4 L979.2 578.9 L980.0 525.7 L980.8 567.6 L981.5 518.3 L982.2 548.5 L983.0 523.6 L983.8 490.0 L984.5 543.9 L985.2 491.1 L986.0 545.9 L986.8 514.0 L987.5 548.3 L988.2 579.6 L989.0 541.7 L989.8 492.9 L990.5 552.7 L991.2 578.3 L992.0 571.1 L992.8 517.1 L993.5 506.2 L994.2 545.7 L995.0 557.4 L995.8 531.0 L996.5 568.5 L997.2 480.7 L998.0 551.3 L998.8 532.2 L999.5 577.9 L1000.2 524.3 L1001.0 514.1 L1001.8 536.9 L1002.5 556.4 L1003.2 510.8 L1004.0 562.7 L1004.8 514.3 L1005.5 550.3 L1006.2 495.6 L1007.0 516.3 L1007.8 554.1 L1008.5 561.0 L1009.2 516.6 L1010.0 497.8 L1010.8 526.8 L1011.5 553.7 L1012.2 510.0 L1013.0 550.7 L1013.8 493.6 L1014.5 555.1 L1015.2 510.0 L1016.0 560.1 L1016.8 494.0 L1017.5 548.7 L1018.2 494.0 L1019.0 489.8 L1019.8 551.0 L1020.5 521.9 L1021.2 572.5 L1022.0 514.8 L1022.8 549.1 L1023.5 540.8 L1024.2 565.9 L1025.0 577.8 L1025.8 575.8 L1026.5 482.3 L1027.2 603.2 L1028.0 579.2 L1028.8 500.3 L1029.5 578.5 L1030.2 499.2 L1031.0 498.9 L1031.8 569.2 L1032.5 524.3 L1033.2 550.4 L1034.0 540.0 L1034.8 490.3 L1035.5 579.8 L1036.2 502.4 L1037.0 545.4 L1037.8 543.6 L1038.5 508.9 L1039.2 556.7 L1040.0 547.5 L1040.8 526.5 L1041.5 567.2 L1042.2 495.4 L1043.0 539.8 L1043.8 514.9 L1044.5 552.7 L1045.2 504.9 L1046.0 502.5 L1046.8 510.4 L1047.5 575.3 L1048.2 556.7 L1049.0 552.8 L1049.8 496.3 L1050.5 574.4 L1051.2 575.7 L1052.0 521.9 L1052.8 547.6 L1053.5 508.2 L1054.2 578.9 L1055.0 501.8 L1055.8 566.3 L1056.5 514.1 L1057.2 579.7 L1058.0 521.2 L1058.8 563.7 L1059.5 499.7 L1060.2 573.3 L1061.0 494.6 L1061.8 511.5 L1062.5 551.3 L1063.2 579.3 L1064.0 504.5 L1064.8 516.2 L1065.5 544.4 L1066.2 495.0 L1067.0 493.3 L1067.8 564.2 L1068.5 556.4 L1069.2 500.3 L1070.0 579.3 L1070.8 564.5 L1071.5 495.6 L1072.2 575.9 L1073.0 571.3 L1073.8 507.2 L1074.5 521.4 L1075.2 569.1 L1076.0 493.9 L1076.8 578.7 L1077.5 522.8 L1078.2 543.0 L1079.0 566.8 L1079.8 494.1 L1080.5 540.7 L1081.2 502.1 L1082.0 551.1 L1082.8 488.0 L1083.5 555.4 L1084.2 527.0 L1085.0 572.3 L1085.8 515.3 L1086.5 558.0 L1087.2 544.0 L1088.0 513.9 L1088.8 523.9 L1089.5 550.6 L1090.2 503.5 L1091.0 552.6 L1091.8 500.0 L1092.5 576.5 L1093.2 503.6 L1094.0 537.2 L1094.8 489.4 L1095.5 547.6 L1096.2 513.2 L1097.0 562.4 L1097.8 566.1 L1098.5 513.4 L1099.2 558.9 L1100.0 501.6 L1100.8 559.6 L1101.5 516.1 L1102.2 557.6 L1103.0 511.5 L1103.8 515.7 L1104.5 565.4 L1105.2 506.1 L1106.0 557.6 L1106.8 569.6 L1107.5 494.6 L1108.2 567.3 L1109.0 513.5 L1109.8 490.2 L1110.5 542.4 L1111.2 494.9 L1112.0 558.1 L1112.8 511.0 L1113.5 574.5 L1114.2 567.5 L1115.0 488.9 L1115.8 575.7 L1116.5 543.2 L1117.2 561.5 L1118.0 571.7 L1118.8 526.9 L1119.5 563.1 L1120.2 488.2 L1121.0 549.7 L1121.8 441.0 L1122.5 552.2 L1123.2 554.7 L1124.0 516.0 L1124.8 558.5 L1125.5 493.9 L1126.2 562.1 L1127.0 503.1 L1127.8 542.7 L1128.5 528.1 L1129.2 578.3 L1130.0 513.2 L1130.8 578.2 L1131.5 513.7 L1132.2 651.0 L1133.0 500.3 L1133.8 541.6 L1134.5 527.7 L1135.2 558.9 L1136.0 524.2 L1136.8 552.5 L1137.5 520.5 L1138.2 553.2 L1139.0 508.5 L1139.8 553.2 L1140.5 513.7 L1141.2 560.8 L1142.0 499.5 L1142.8 538.3 L1143.5 579.9 L1144.2 509.5 L1145.0 577.3 L1145.8 532.9 L1146.5 528.6 L1147.2 542.1 L1148.0 491.0 L1148.8 510.3 L1149.5 574.6 L1150.2 569.0 L1151.0 526.6 L1151.8 512.5 L1152.5 554.1 L1153.2 508.6 L1154.0 496.8 L1154.8 541.2 L1155.5 490.6 L1156.2 560.4 L1157.0 512.4 L1157.8 569.1 L1158.5 516.5 L1159.2 498.3 L1160.0 609.0 L1160.8 507.5 L1161.5 520.8 L1162.2 547.9 L1163.0 575.1 L1163.8 503.6 L1164.5 558.1 L1165.2 496.0 L1166.0 576.9 L1166.8 522.4 L1167.5 579.9 L1168.2 535.9 L1169.0 565.9 L1169.8 517.1 L1170.5 550.4 L1171.2 506.9 L1172.0 502.5 L1172.8 558.7 L1173.5 498.3 L1174.2 578.3 L1175.0 521.9 L1175.8 549.7 L1176.5 502.3 L1177.2 557.6 L1178.0 553.4 L1178.8 506.5 L1179.5 569.1 L1180.2 491.2 L1181.0 577.9 L1181.8 494.4 L1182.5 554.8 L1183.2 492.1 L1184.0 569.6 L1184.8 546.4 L1185.5 489.6 L1186.2 517.9 L1187.0 568.5 L1187.8 464.7 L1188.5 576.8 L1189.2 500.1 L1190.0 579.4 L1190.8 528.4 L1191.5 537.9 L1192.2 520.5 L1193.0 503.6 L1193.8 558.2 L1194.5 541.1 L1195.2 547.9 L1196.0 503.5 L1196.8 557.2 L1197.5 496.4 L1198.2 560.0 L1199.0 492.3 L1199.8 496.6 L1200.5 561.1 L1201.2 512.7 L1202.0 548.5 L1202.8 515.7 L1203.5 555.2 L1204.2 555.4 L1205.0 521.3 L1205.8 560.2 L1206.5 525.1 L1207.2 575.4 L1208.0 504.6 L1208.8 526.1 L1209.5 514.1 L1210.2 517.5 L1211.0 545.4 L1211.8 507.4 L1212.5 546.9 L1213.2 522.8 L1214.0 498.7 L1214.8 558.4 L1215.5 499.9 L1216.2 560.1 L1217.0 506.5 L1217.8 553.1 L1218.5 509.7 L1219.2 560.6 L1220.0 513.4 L1220.8 573.9 L1221.5 517.9 L1222.2 548.8 L1223.0 513.3 L1223.8 495.6 L1224.5 574.6 L1225.2 564.0 L1226.0 512.6 L1226.8 567.3 L1227.5 573.9 L1228.2 481.1 L1229.0 568.0 L1229.8 445.0 L1230.5 556.7 L1231.2 523.2 L1232.0 565.7 L1232.8 519.7 L1233.5 555.7 L1234.2 563.2 L1235.0 578.7 L1235.8 523.1 L1236.5 540.5 L1237.2 505.1 L1238.0 638.0 L1238.8 529.4 L1239.5 567.0 L1240.2 530.9 L1241.0 563.4 L1241.8 524.7 L1242.5 594.2 L1243.2 512.6 L1244.0 500.5 L1244.8 517.3 L1245.5 527.4 L1246.2 521.2 L1247.0 551.4 L1247.8 522.1 L1248.5 547.7 L1249.2 504.9 L1250.0 558.8 L1250.8 494.2 L1251.5 561.3 L1252.2 505.0 L1253.0 569.6 L1253.8 493.2 L1254.5 564.8 L1255.2 537.9 L1256.0 508.3 L1256.8 537.5 L1257.5 565.6 L1258.2 528.1 L1259.0 563.0" fill="none" stroke="#5aa2bf" stroke-width="0.9" stroke-linejoin="miter" stroke-miterlimit="3"/><rect x="599" y="166" width="20.5" height="491" fill="rgba(40,42,48,0.55)"/><rect x="659.5" y="166" width="21.5" height="491" fill="rgba(40,42,48,0.55)"/><rect x="940" y="166" width="39" height="491" fill="rgba(40,42,48,0.55)"/><path d="M436 166.5 H442.5 V401.5 H436" fill="none" stroke="#3d50e3" stroke-width="1.2"/><line x1="436" y1="214.5" x2="442.5" y2="214.5" stroke="#3d50e3" stroke-width="1.2"/><line x1="436" y1="266.5" x2="442.5" y2="266.5" stroke="#3d50e3" stroke-width="1.2"/><line x1="436" y1="318.5" x2="442.5" y2="318.5" stroke="#3d50e3" stroke-width="1.2"/><line x1="436" y1="370.5" x2="442.5" y2="370.5" stroke="#3d50e3" stroke-width="1.2"/><path d="M436 417.5 H442.5 V652.5 H436" fill="none" stroke="#5aa2bf" stroke-width="1.2"/><line x1="436" y1="428.5" x2="442.5" y2="428.5" stroke="#5aa2bf" stroke-width="1.2"/><line x1="436" y1="471.5" x2="442.5" y2="471.5" stroke="#5aa2bf" stroke-width="1.2"/><line x1="436" y1="514.5" x2="442.5" y2="514.5" stroke="#5aa2bf" stroke-width="1.2"/><line x1="436" y1="557.5" x2="442.5" y2="557.5" stroke="#5aa2bf" stroke-width="1.2"/><line x1="436" y1="600.5" x2="442.5" y2="600.5" stroke="#5aa2bf" stroke-width="1.2"/><line x1="436" y1="643.5" x2="442.5" y2="643.5" stroke="#5aa2bf" stroke-width="1.2"/><path d="M442.5 661 V656.5 H1290.5 V661" fill="none" stroke="#333" stroke-width="1.4"/><line x1="480.5" y1="656.5" x2="480.5" y2="661" stroke="#333" stroke-width="1.2"/><line x1="523.0" y1="656.5" x2="523.0" y2="661" stroke="#333" stroke-width="1.2"/><line x1="565.5" y1="656.5" x2="565.5" y2="661" stroke="#333" stroke-width="1.2"/><line x1="608.0" y1="656.5" x2="608.0" y2="661" stroke="#333" stroke-width="1.2"/><line x1="650.5" y1="656.5" x2="650.5" y2="661" stroke="#333" stroke-width="1.2"/><line x1="693.0" y1="656.5" x2="693.0" y2="661" stroke="#333" stroke-width="1.2"/><line x1="735.5" y1="656.5" x2="735.5" y2="661" stroke="#333" stroke-width="1.2"/><line x1="778.0" y1="656.5" x2="778.0" y2="661" stroke="#333" stroke-width="1.2"/><line x1="820.5" y1="656.5" x2="820.5" y2="661" stroke="#333" stroke-width="1.2"/><line x1="863.0" y1="656.5" x2="863.0" y2="661" stroke="#333" stroke-width="1.2"/><line x1="905.5" y1="656.5" x2="905.5" y2="661" stroke="#333" stroke-width="1.2"/><line x1="948.0" y1="656.5" x2="948.0" y2="661" stroke="#333" stroke-width="1.2"/><line x1="990.5" y1="656.5" x2="990.5" y2="661" stroke="#333" stroke-width="1.2"/><line x1="1033.0" y1="656.5" x2="1033.0" y2="661" stroke="#333" stroke-width="1.2"/><line x1="1075.5" y1="656.5" x2="1075.5" y2="661" stroke="#333" stroke-width="1.2"/><line x1="1118.0" y1="656.5" x2="1118.0" y2="661" stroke="#333" stroke-width="1.2"/><line x1="1160.5" y1="656.5" x2="1160.5" y2="661" stroke="#333" stroke-width="1.2"/><line x1="1203.0" y1="656.5" x2="1203.0" y2="661" stroke="#333" stroke-width="1.2"/><line x1="1245.5" y1="656.5" x2="1245.5" y2="661" stroke="#333" stroke-width="1.2"/><line x1="1288.0" y1="656.5" x2="1288.0" y2="661" stroke="#333" stroke-width="1.2"/><rect x="442.5" y="720.5" width="848" height="29" fill="#f2f2f2"/><path d="M498.5 736.7 L499.2 730.0 L499.9 729.3 L500.6 736.4 L501.3 729.5 L502.0 738.5 L502.7 729.3 L503.4 739.8 L504.1 731.2 L504.8 729.2 L505.5 732.5 L506.2 731.1 L506.9 737.9 L507.6 732.1 L508.3 738.1 L509.0 729.9 L509.7 735.9 L510.4 731.0 L511.1 722.4 L511.8 732.4 L512.5 738.7 L513.2 732.1 L513.9 738.4 L514.6 730.6 L515.3 729.9 L516.0 739.8 L516.7 729.2 L517.4 738.1 L518.1 737.0 L518.8 736.8 L519.5 748.7 L520.2 739.2 L520.9 729.7 L521.6 739.4 L522.3 738.4 L523.0 729.3 L523.7 738.8 L524.4 730.3 L525.1 739.4 L525.8 730.2 L526.5 729.8 L527.2 739.8 L527.9 731.3 L528.6 739.1 L529.3 731.8 L530.0 738.1 L530.7 729.4 L531.4 739.9 L532.1 729.2 L532.8 729.8 L533.5 739.5 L534.2 739.6 L534.9 730.4 L535.6 736.9 L536.3 735.0 L537.0 739.2 L537.7 729.8 L538.4 739.1 L539.1 730.5 L539.8 738.8 L540.5 730.0 L541.2 738.3 L541.9 730.2 L542.6 736.7 L543.3 730.7 L544.0 738.7 L544.7 730.6 L545.4 736.9 L546.1 732.9 L546.8 738.8 L547.5 733.0 L548.2 739.3 L548.9 732.5 L549.6 729.8 L550.3 731.5 L551.0 739.7 L551.7 732.2 L552.4 736.3 L553.1 730.2 L553.8 729.8 L554.5 737.4 L555.2 731.0 L555.9 738.8 L556.6 731.9 L557.3 737.6 L558.0 730.6 L558.7 737.2 L559.4 732.8 L560.1 739.7 L560.8 732.9 L561.5 740.0 L562.2 729.5 L562.9 737.9 L563.6 729.5 L564.3 735.6 L565.0 730.6 L565.7 737.4 L566.4 720.6 L567.1 729.4 L567.8 733.7 L568.5 729.5 L569.2 735.7 L569.9 738.9 L570.6 737.1 L571.3 730.8 L572.0 729.3 L572.7 729.7 L573.4 735.9 L574.1 731.8 L574.8 746.6 L575.5 730.0 L576.2 734.7 L576.9 729.5 L577.6 729.5 L578.3 729.1 L579.0 736.6 L579.7 732.3 L580.4 729.6 L581.1 738.2 L581.8 732.1 L582.5 735.0 L583.2 732.3 L583.9 738.8 L584.6 739.1 L585.3 731.5 L586.0 729.3 L586.7 738.2 L587.4 738.2 L588.1 737.6 L588.8 731.3 L589.5 737.5 L590.2 739.4 L590.9 731.1 L591.6 736.8 L592.3 731.2 L593.0 739.8 L593.7 730.3 L594.4 735.9 L595.1 737.8 L595.8 731.0 L596.5 734.9 L597.2 729.1 L597.9 739.7 L598.6 735.9 L599.3 730.6 L600.0 731.8 L600.7 736.7 L601.4 732.0 L602.1 735.4 L602.8 738.9 L603.5 731.5 L604.2 738.9 L604.9 739.4 L605.6 730.6 L606.3 737.4 L607.0 732.8 L607.7 730.2 L608.4 738.8 L609.1 739.2 L609.8 732.8 L610.5 735.4 L611.2 729.4 L611.9 738.6 L612.6 733.2 L613.3 730.0 L614.0 733.5 L614.7 738.7 L615.4 738.4 L616.1 730.0 L616.8 735.8 L617.5 729.3 L618.2 739.8 L618.9 729.1 L619.6 739.2 L620.3 731.8 L621.0 739.9 L621.7 738.6 L622.4 730.0 L623.1 738.8 L623.8 736.6 L624.5 729.5 L625.2 730.3 L625.9 736.7 L626.6 731.4 L627.3 732.8 L628.0 737.8 L628.7 729.0 L629.4 737.6 L630.1 731.3 L630.8 739.3 L631.5 733.3 L632.2 736.0 L632.9 729.9 L633.6 736.1 L634.3 730.4 L635.0 739.4 L635.7 730.6 L636.4 735.7 L637.1 736.6 L637.8 730.7 L638.5 739.8 L639.2 730.2 L639.9 738.9 L640.6 730.5 L641.3 737.3 L642.0 730.4 L642.7 734.8 L643.4 731.3 L644.1 739.4 L644.8 732.4 L645.5 738.7 L646.2 730.0 L646.9 736.3 L647.6 729.5 L648.3 732.1 L649.0 729.1 L649.7 737.4 L650.4 730.4 L651.1 739.8 L651.8 729.6 L652.5 730.9 L653.2 736.6 L653.9 730.4 L654.6 738.5 L655.3 733.4 L656.0 737.6 L656.7 729.3 L657.4 730.8 L658.1 736.5 L658.8 730.3 L659.5 737.9 L660.2 739.7 L660.9 730.9 L661.6 735.1 L662.3 732.7 L663.0 736.4 L663.7 729.2 L664.4 737.5 L665.1 731.6 L665.8 729.1 L666.5 736.6 L667.2 730.4 L667.9 739.8 L668.6 729.3 L669.3 732.7 L670.0 731.0 L670.7 732.1 L671.4 738.9 L672.1 736.9 L672.8 732.6 L673.5 737.0 L674.2 732.9 L674.9 739.0 L675.6 731.9 L676.3 731.3 L677.0 737.0 L677.7 731.4 L678.4 737.2 L679.1 731.6 L679.8 739.0 L680.5 732.6 L681.2 738.9 L681.9 731.6 L682.6 735.8 L683.3 733.0 L684.0 739.7 L684.7 735.3 L685.4 737.0 L686.1 729.5 L686.8 735.7 L687.5 732.3 L688.2 737.0 L688.9 729.6 L689.6 736.0 L690.3 729.2 L691.0 736.0 L691.7 730.6 L692.4 729.8 L693.1 738.4 L693.8 730.8 L694.5 731.2 L695.2 736.9 L695.9 729.0 L696.6 737.7 L697.3 738.7 L698.0 730.5 L698.7 739.9 L699.4 732.1 L700.1 732.7 L700.8 729.3 L701.5 738.2 L702.2 730.3 L702.9 738.6 L703.6 729.8 L704.3 739.4 L705.0 730.1 L705.7 734.7 L706.4 729.6 L707.1 735.3 L707.8 739.5 L708.5 734.4 L709.2 739.2 L709.9 730.3 L710.6 733.9 L711.3 739.1 L712.0 730.5 L712.7 733.0 L713.4 739.6 L714.1 730.5 L714.8 738.0 L715.5 729.2 L716.2 736.6 L716.9 732.6 L717.6 729.4 L718.3 736.3 L719.0 729.6 L719.7 736.7 L720.4 729.6 L721.1 731.3 L721.8 730.4 L722.5 738.6 L723.2 731.4 L723.9 738.2 L724.6 730.3 L725.3 736.2 L726.0 729.3 L726.7 729.6 L727.4 732.4 L728.1 736.7 L728.8 731.4 L729.5 739.2 L730.2 730.8 L730.9 731.8 L731.6 739.2 L732.3 736.6 L733.0 730.0 L733.7 729.9 L734.4 735.9 L735.1 738.4 L735.8 730.5 L736.5 739.9 L737.2 731.8 L737.9 738.0 L738.6 729.2 L739.3 732.9 L740.0 729.3 L740.7 737.5 L741.4 731.6 L742.1 740.0 L742.8 737.6 L743.5 732.1 L744.2 736.6 L744.9 738.9 L745.6 730.3 L746.3 736.8 L747.0 730.9 L747.7 737.1 L748.4 729.6 L749.1 737.5 L749.8 738.6 L750.5 729.3 L751.2 736.8 L751.9 739.8 L752.6 730.9 L753.3 738.7 L754.0 737.0 L754.7 730.1 L755.4 739.0 L756.1 738.5 L756.8 729.5 L757.5 738.0 L758.2 734.1 L758.9 729.3 L759.6 730.6 L760.3 738.6 L761.0 730.5 L761.7 735.3 L762.4 731.9 L763.1 735.8 L763.8 730.3 L764.5 729.5 L765.2 738.8 L765.9 729.6 L766.6 731.7 L767.3 735.2 L768.0 731.3 L768.7 736.4 L769.4 731.8 L770.1 736.8 L770.8 732.5 L771.5 738.9 L772.2 738.5 L772.9 729.6 L773.6 739.9 L774.3 736.8 L775.0 729.2 L775.7 729.8 L776.4 730.6 L777.1 739.9 L777.8 730.8 L778.5 735.1 L779.2 732.9 L779.9 731.8 L780.6 738.9 L781.3 730.6 L782.0 738.9 L782.7 735.0 L783.4 736.9 L784.1 730.6 L784.8 738.8 L785.5 731.2 L786.2 732.3 L786.9 737.2 L787.6 739.2 L788.3 730.0 L789.0 736.9 L789.7 729.2 L790.4 733.7 L791.1 732.2 L791.8 737.9 L792.5 729.7 L793.2 730.6 L793.9 738.8 L794.6 739.8 L795.3 731.5 L796.0 732.5 L796.7 737.7 L797.4 730.6 L798.1 736.2 L798.8 733.7 L799.5 739.0 L800.2 740.0 L800.9 739.8 L801.6 731.4 L802.3 731.1 L803.0 739.4 L803.7 740.0 L804.4 731.5 L805.1 723.9 L805.8 730.1 L806.5 736.2 L807.2 731.1 L807.9 734.7 L808.6 731.3 L809.3 738.2 L810.0 729.7 L810.7 737.3 L811.4 730.3 L812.1 730.2 L812.8 748.4 L813.5 738.6 L814.2 731.0 L814.9 738.6 L815.6 731.0 L816.3 739.7 L817.0 733.0 L817.7 739.5 L818.4 729.9 L819.1 734.9 L819.8 730.0 L820.5 737.5 L821.2 730.8 L821.9 738.2 L822.6 739.1 L823.3 730.9 L824.0 738.7 L824.7 732.3 L825.4 735.6 L826.1 730.2 L826.8 740.0 L827.5 733.3 L828.2 739.7 L828.9 737.6 L829.6 730.2 L830.3 737.0 L831.0 730.1 L831.7 737.8 L832.4 729.7 L833.1 737.0 L833.8 737.3 L834.5 730.3 L835.2 735.9 L835.9 729.1 L836.6 738.6 L837.3 729.1 L838.0 736.5 L838.7 730.0 L839.4 736.6 L840.1 735.7 L840.8 737.9 L841.5 731.0 L842.2 730.6 L842.9 738.0 L843.6 732.4 L844.3 730.1 L845.0 732.0 L845.7 737.1 L846.4 729.8 L847.1 738.9 L847.8 739.0 L848.5 729.3 L849.2 739.5 L849.9 732.3 L850.6 739.9 L851.3 730.8 L852.0 730.6 L852.7 737.1 L853.4 737.6 L854.1 738.4 L854.8 733.8 L855.5 739.0 L856.2 731.6 L856.9 738.9 L857.6 729.9 L858.3 738.6 L859.0 733.3 L859.7 738.4 L860.4 731.5 L861.1 739.0 L861.8 730.0 L862.5 738.1 L863.2 729.9 L863.9 736.2 L864.6 729.6 L865.3 739.9 L866.0 729.3 L866.7 739.4 L867.4 731.3 L868.1 739.8 L868.8 730.6 L869.5 732.3 L870.2 730.7 L870.9 739.5 L871.6 738.9 L872.3 729.6 L873.0 733.8 L873.7 739.9 L874.4 739.7 L875.1 730.9 L875.8 739.7 L876.5 732.5 L877.2 731.5 L877.9 736.4 L878.6 730.2 L879.3 739.7 L880.0 729.2 L880.7 735.7 L881.4 729.8 L882.1 738.4 L882.8 732.3 L883.5 729.4 L884.2 738.3 L884.9 735.3 L885.6 731.4 L886.3 738.9 L887.0 739.5 L887.7 732.4 L888.4 738.5 L889.1 735.8 L889.8 739.7 L890.5 734.2 L891.2 739.9 L891.9 730.6 L892.6 739.1 L893.3 730.2 L894.0 738.2 L894.7 731.1 L895.4 736.6 L896.1 731.9 L896.8 735.8 L897.5 732.0 L898.2 738.8 L898.9 730.7 L899.6 738.4 L900.3 722.4 L901.0 739.8 L901.7 729.5 L902.4 732.0 L903.1 738.4 L903.8 744.8 L904.5 737.0 L905.2 730.1 L905.9 738.7 L906.6 730.2 L907.3 738.4 L908.0 729.9 L908.7 737.6 L909.4 739.8 L910.1 730.6 L910.8 737.4 L911.5 730.3 L912.2 738.9 L912.9 729.3 L913.6 738.7 L914.3 730.8 L915.0 737.4 L915.7 731.2 L916.4 737.1 L917.1 730.4 L917.8 739.5 L918.5 730.5 L919.2 736.6 L919.9 733.7 L920.6 739.6 L921.3 731.9 L922.0 738.9 L922.7 729.2 L923.4 739.8 L924.1 730.6 L924.8 739.7 L925.5 737.7 L926.2 739.8 L926.9 730.1 L927.6 735.7 L928.3 729.6 L929.0 732.7 L929.7 740.0 L930.4 735.4 L931.1 729.8 L931.8 736.3 L932.5 730.7 L933.2 737.5 L933.9 729.4 L934.6 732.0 L935.3 739.0 L936.0 729.2 L936.7 735.6 L937.4 730.0 L938.1 735.7 L938.8 729.8 L939.5 739.5 L940.2 732.8 L940.9 739.6 L941.6 731.1 L942.3 731.8 L943.0 739.9 L943.7 731.4 L944.4 736.7 L945.1 731.7 L945.8 739.7 L946.5 729.1 L947.2 737.9 L947.9 730.9 L948.6 738.5 L949.3 729.5 L950.0 734.2 L950.7 739.3 L951.4 729.1 L952.1 737.7 L952.8 731.1 L953.5 739.9 L954.2 731.3 L954.9 737.6 L955.6 729.5 L956.3 738.0 L957.0 730.3 L957.7 737.1 L958.4 730.1 L959.1 737.5 L959.8 729.7 L960.5 738.1 L961.2 739.7 L961.9 730.7 L962.6 739.5 L963.3 731.1 L964.0 738.8 L964.7 737.0 L965.4 730.5 L966.1 738.8 L966.8 736.5 L967.5 738.3 L968.2 729.3 L968.9 736.6 L969.6 730.9 L970.3 739.4 L971.0 737.8 L971.7 733.8 L972.4 738.2 L973.1 731.0 L973.8 739.8 L974.5 730.2 L975.2 739.2 L975.9 731.5 L976.6 739.7 L977.3 729.6 L978.0 735.8 L978.7 738.8 L979.4 729.3 L980.1 738.7 L980.8 729.1 L981.5 737.0 L982.2 730.5 L982.9 738.3 L983.6 737.1 L984.3 729.8 L985.0 737.8 L985.7 730.3 L986.4 739.2 L987.1 739.0 L987.8 733.1 L988.5 735.5 L989.2 729.6 L989.9 738.7 L990.6 732.8 L991.3 736.1 L992.0 730.9 L992.7 736.5 L993.4 739.8 L994.1 732.3 L994.8 739.8 L995.5 730.0 L996.2 730.6 L996.9 738.8 L997.6 730.1 L998.3 737.1 L999.0 730.9 L999.7 735.6 L1000.4 735.4 L1001.1 739.8 L1001.8 729.5 L1002.5 729.9 L1003.2 735.9 L1003.9 730.4 L1004.6 739.0 L1005.3 731.2 L1006.0 737.6 L1006.7 730.0 L1007.4 734.1 L1008.1 738.0 L1008.8 732.1 L1009.5 737.9 L1010.2 730.6 L1010.9 737.8 L1011.6 729.4 L1012.3 739.6 L1013.0 739.2 L1013.7 729.7 L1014.4 738.1 L1015.1 732.0 L1015.8 739.4 L1016.5 733.0 L1017.2 730.5 L1017.9 738.7 L1018.6 733.0 L1019.3 732.4 L1020.0 738.8 L1020.7 729.5 L1021.4 731.4 L1022.1 730.7 L1022.8 739.0 L1023.5 730.5 L1024.2 738.0 L1024.9 730.3 L1025.6 739.0 L1026.3 729.7 L1027.0 738.4 L1027.7 738.8 L1028.4 732.4 L1029.1 736.3 L1029.8 739.3 L1030.5 732.3 L1031.2 737.8 L1031.9 729.4 L1032.6 736.2 L1033.3 730.1 L1034.0 736.9 L1034.7 738.7 L1035.4 739.4 L1036.1 739.4 L1036.8 729.8 L1037.5 738.2 L1038.2 730.7 L1038.9 736.4 L1039.6 733.0 L1040.3 739.1 L1041.0 735.4 L1041.7 729.2 L1042.4 732.5 L1043.1 739.0 L1043.8 737.9 L1044.5 738.6 L1045.2 729.8 L1045.9 731.9 L1046.6 739.4 L1047.3 729.9 L1048.0 738.5 L1048.7 730.6 L1049.4 737.6 L1050.1 739.9 L1050.8 731.4 L1051.5 736.8 L1052.2 730.6 L1052.9 739.7 L1053.6 739.8 L1054.3 730.5 L1055.0 737.6 L1055.7 729.9 L1056.4 738.4 L1057.1 739.4 L1057.8 729.6 L1058.5 738.9 L1059.2 739.9 L1059.9 738.7 L1060.6 739.9 L1061.3 730.2 L1062.0 736.7 L1062.7 738.7 L1063.4 729.8 L1064.1 737.8 L1064.8 732.6 L1065.5 737.4 L1066.2 729.8 L1066.9 736.6 L1067.6 734.1 L1068.3 739.6 L1069.0 739.9 L1069.7 729.4 L1070.4 739.3 L1071.1 739.1 L1071.8 738.3 L1072.5 738.8 L1073.2 729.9 L1073.9 737.3 L1074.6 732.4 L1075.3 738.9 L1076.0 730.4 L1076.7 729.0 L1077.4 737.7 L1078.1 731.3 L1078.8 736.1 L1079.5 734.1 L1080.2 736.2 L1080.9 730.5 L1081.6 739.9 L1082.3 733.0 L1083.0 736.3 L1083.7 730.1 L1084.4 731.8 L1085.1 735.4 L1085.8 729.4 L1086.5 732.7 L1087.2 737.8 L1087.9 729.9 L1088.6 739.2 L1089.3 729.1 L1090.0 730.5 L1090.7 736.2 L1091.4 733.3 L1092.1 738.7 L1092.8 730.7 L1093.5 736.9 L1094.2 736.4 L1094.9 731.6 L1095.6 737.1 L1096.3 731.5 L1097.0 737.4 L1097.7 739.1 L1098.4 731.0 L1099.1 739.5 L1099.8 730.9 L1100.5 737.1 L1101.2 739.7 L1101.9 730.2 L1102.6 739.5 L1103.3 732.2 L1104.0 739.9 L1104.7 730.3 L1105.4 737.6 L1106.1 732.1 L1106.8 735.9 L1107.5 733.8 L1108.2 736.6 L1108.9 731.8 L1109.6 738.3 L1110.3 731.3 L1111.0 735.4 L1111.7 732.8 L1112.4 735.0 L1113.1 733.7 L1113.8 737.2 L1114.5 730.3 L1115.2 736.3 L1115.9 729.4 L1116.6 740.0 L1117.3 730.4 L1118.0 733.6 L1118.7 736.5 L1119.4 730.8 L1120.1 739.8 L1120.8 729.1 L1121.5 723.5 L1122.2 729.4 L1122.9 735.9 L1123.6 730.8 L1124.3 738.0 L1125.0 732.3 L1125.7 738.4 L1126.4 738.4 L1127.1 729.1 L1127.8 735.6 L1128.5 731.8 L1129.2 736.4 L1129.9 732.3 L1130.6 737.3 L1131.3 737.5 L1132.0 748.7 L1132.7 737.3 L1133.4 730.9 L1134.1 736.4 L1134.8 732.3 L1135.5 732.3 L1136.2 738.4 L1136.9 731.8 L1137.6 737.1 L1138.3 730.8 L1139.0 735.0 L1139.7 729.5 L1140.4 735.4 L1141.1 731.3 L1141.8 740.0 L1142.5 732.6 L1143.2 735.4 L1143.9 730.9 L1144.6 730.3 L1145.3 737.6 L1146.0 732.3 L1146.7 738.9 L1147.4 730.5 L1148.1 731.6 L1148.8 738.6 L1149.5 729.5 L1150.2 738.2 L1150.9 731.4 L1151.6 738.6 L1152.3 730.8 L1153.0 735.9 L1153.7 729.3 L1154.4 736.1 L1155.1 729.9 L1155.8 737.8 L1156.5 729.7 L1157.2 738.2 L1157.9 729.6 L1158.6 738.0 L1159.3 736.9 L1160.0 729.8 L1160.7 739.4 L1161.4 730.9 L1162.1 739.8 L1162.8 730.0 L1163.5 739.8 L1164.2 732.4 L1164.9 729.2 L1165.6 739.2 L1166.3 729.2 L1167.0 737.4 L1167.7 730.6 L1168.4 739.6 L1169.1 730.2 L1169.8 737.1 L1170.5 731.9 L1171.2 739.8 L1171.9 730.2 L1172.6 735.4 L1173.3 732.1 L1174.0 738.4 L1174.7 732.5 L1175.4 738.0 L1176.1 730.2 L1176.8 735.7 L1177.5 736.9 L1178.2 739.6 L1178.9 733.7 L1179.6 736.0 L1180.3 729.6 L1181.0 738.9 L1181.7 738.0 L1182.4 729.5 L1183.1 736.6 L1183.8 734.3 L1184.5 739.4 L1185.2 730.3 L1185.9 737.4 L1186.6 730.5 L1187.3 735.7 L1188.0 731.8 L1188.7 738.4 L1189.4 739.5 L1190.1 737.3 L1190.8 733.5 L1191.5 735.8 L1192.2 731.8 L1192.9 738.7 L1193.6 730.0 L1194.3 738.9 L1195.0 729.4 L1195.7 738.9 L1196.4 730.2 L1197.1 738.5 L1197.8 730.2 L1198.5 739.1 L1199.2 729.1 L1199.9 736.5 L1200.6 730.3 L1201.3 736.1 L1202.0 736.6 L1202.7 729.2 L1203.4 737.7 L1204.1 730.6 L1204.8 736.7 L1205.5 738.2 L1206.2 735.1 L1206.9 730.5 L1207.6 739.8 L1208.3 730.1 L1209.0 738.8 L1209.7 730.6 L1210.4 737.3 L1211.1 729.8 L1211.8 737.6 L1212.5 731.6 L1213.2 738.3 L1213.9 729.1 L1214.6 739.1 L1215.3 730.2 L1216.0 736.1 L1216.7 729.7 L1217.4 737.8 L1218.1 730.3 L1218.8 738.4 L1219.5 729.7 L1220.2 733.8 L1220.9 733.1 L1221.6 737.1 L1222.3 732.4 L1223.0 738.9 L1223.7 736.0 L1224.4 733.2 L1225.1 738.3 L1225.8 733.4 L1226.5 729.7 L1227.2 737.3 L1227.9 731.8 L1228.6 738.5 L1229.3 723.9 L1230.0 731.9 L1230.7 736.8 L1231.4 731.5 L1232.1 739.2 L1232.8 729.2 L1233.5 736.3 L1234.2 733.8 L1234.9 737.2 L1235.6 731.7 L1236.3 739.1 L1237.0 730.1 L1237.7 747.1 L1238.4 731.4 L1239.1 737.8 L1239.8 729.2 L1240.5 735.4 L1241.2 734.0 L1241.9 735.0 L1242.6 729.6 L1243.3 738.2 L1244.0 738.9 L1244.7 730.2 L1245.4 739.4 L1246.1 730.7 L1246.8 737.3 L1247.5 733.0 L1248.2 737.7 L1248.9 732.4 L1249.6 739.8 L1250.3 729.8 L1251.0 737.1 L1251.7 730.8 L1252.4 738.0 L1253.1 730.4 L1253.8 739.8 L1254.5 732.0 L1255.2 738.6 L1255.9 730.9 L1256.6 739.8 L1257.3 736.7 L1258.0 730.3 L1258.7 733.2 L1259.4 738.3" fill="none" stroke="#5aa2bf" stroke-width="1"/><path d="M498.5 742.5 L498.6 740.7 L500.0 743.3 L501.5 742.2 L502.2 742.3 L503.5 742.8 L504.8 742.5 L506.0 742.3 L507.2 742.4 L508.5 742.7 L509.8 742.3 L511.0 742.9 L512.2 742.5 L513.5 742.8 L514.8 742.3 L516.0 742.8 L517.2 742.3 L518.5 742.7 L519.8 741.7 L521.0 742.7 L522.2 742.4 L523.5 742.7 L524.8 742.4 L526.0 743.2 L527.2 742.7 L528.5 742.4 L529.8 742.3 L531.0 742.8 L532.2 742.4 L533.5 742.9 L534.8 742.4 L536.0 743.3 L537.2 742.4 L538.5 741.9 L539.8 742.3 L541.0 743.3 L542.2 742.4 L543.5 742.9 L544.8 742.9 L546.0 742.8 L547.2 742.5 L548.5 742.9 L549.8 742.3 L551.0 742.7 L552.2 742.3 L553.5 742.8 L554.8 742.4 L556.0 742.3 L557.2 742.1 L558.5 742.8 L559.8 742.4 L561.0 742.7 L562.2 742.5 L563.5 742.4 L564.8 742.5 L566.0 742.7 L567.2 742.4 L568.5 742.7 L569.8 742.3 L571.0 742.9 L572.2 742.4 L573.5 742.8 L574.8 742.4 L576.0 742.7 L577.2 742.5 L578.5 742.9 L579.8 742.4 L581.0 741.9 L582.2 743.1 L583.5 742.8 L584.8 742.3 L586.0 742.9 L587.2 742.5 L588.5 742.8 L589.8 742.4 L591.0 742.9 L592.2 742.5 L593.5 742.8 L594.8 742.3 L596.0 742.8 L597.2 742.4 L598.5 742.9 L599.8 742.4 L601.0 742.7 L601.3 742.5 L603.7 722.5 L605.8 728.9 L607.9 727.0 L610.2 727.6 L612.6 747.0 L615.0 741.5 L617.0 743.2 L618.5 742.4 L619.8 742.4 L621.0 742.4 L622.2 742.5 L623.5 742.8 L624.8 742.3 L626.0 742.7 L627.2 742.4 L628.5 742.9 L629.8 742.4 L631.0 742.8 L632.2 742.4 L633.5 742.8 L634.8 742.3 L636.0 742.8 L637.2 742.5 L638.5 742.9 L639.8 742.3 L641.0 742.5 L642.2 742.4 L643.5 742.7 L644.8 742.3 L646.0 742.9 L647.2 742.5 L648.5 742.4 L649.8 742.5 L651.0 742.8 L652.2 742.3 L653.5 742.7 L654.8 742.5 L656.0 743.1 L657.2 742.4 L658.5 742.9 L659.8 742.4 L661.0 742.7 L662.2 742.4 L663.5 742.9 L664.8 742.3 L666.0 742.7 L666.8 742.5 L669.5 722.6 L671.3 728.9 L673.6 726.8 L676.3 747.1 L678.4 741.4 L680.5 743.1 L682.0 742.4 L682.2 742.5 L683.5 742.7 L684.8 742.5 L686.0 742.8 L687.2 742.4 L688.5 742.8 L689.8 742.4 L691.0 742.7 L692.2 742.4 L693.5 742.9 L694.8 742.4 L696.0 742.8 L697.2 742.9 L698.5 742.8 L699.8 742.3 L701.0 742.9 L702.2 742.4 L703.5 742.9 L704.8 742.4 L706.0 742.7 L707.2 742.4 L708.5 742.8 L709.8 741.9 L711.0 742.7 L712.2 742.3 L713.5 742.8 L714.8 742.5 L716.0 742.3 L717.2 742.3 L718.5 742.7 L719.8 742.3 L721.0 742.7 L722.2 742.5 L723.5 742.8 L724.8 742.3 L726.0 742.7 L727.2 742.3 L728.5 742.8 L729.8 742.7 L731.0 742.4 L732.2 742.8 L733.5 742.8 L734.8 742.3 L736.0 742.9 L737.2 742.3 L738.5 742.5 L739.8 742.3 L741.0 742.8 L742.2 742.3 L743.5 742.3 L744.8 742.3 L746.0 742.8 L747.2 742.4 L748.5 742.9 L749.8 742.3 L751.0 742.8 L752.2 742.3 L753.5 742.8 L754.8 742.8 L756.0 742.9 L757.2 742.4 L758.5 742.8 L759.8 742.8 L761.0 742.8 L762.2 742.5 L763.5 742.7 L764.8 742.3 L766.0 742.8 L767.2 742.3 L768.5 742.9 L769.8 742.4 L771.0 742.8 L772.2 742.4 L773.5 742.8 L774.8 742.3 L776.0 742.8 L777.2 742.4 L778.5 742.9 L779.8 742.7 L781.0 742.7 L782.2 742.3 L783.5 742.9 L784.8 742.4 L786.0 742.9 L787.2 742.5 L788.5 742.8 L789.8 742.4 L791.0 742.8 L792.2 742.8 L793.5 742.8 L794.8 742.4 L796.0 742.7 L797.2 742.3 L798.5 742.7 L799.8 742.3 L801.0 742.7 L802.2 742.4 L803.5 742.7 L804.8 741.8 L806.0 742.8 L807.2 742.4 L808.5 742.9 L809.8 742.3 L811.0 742.7 L812.2 742.4 L813.5 743.3 L814.8 742.3 L816.0 742.8 L817.2 742.4 L818.5 742.5 L819.8 742.5 L821.0 742.8 L822.2 742.5 L823.5 742.5 L824.8 742.4 L826.0 742.7 L827.2 742.5 L828.5 742.9 L829.8 742.8 L831.0 742.7 L832.2 742.3 L833.5 742.7 L834.8 742.4 L836.0 742.9 L837.2 742.3 L838.5 742.9 L839.8 742.5 L841.0 742.8 L842.2 742.5 L843.5 742.5 L844.8 742.5 L846.0 742.7 L847.2 742.3 L848.5 742.7 L849.8 742.5 L851.0 742.3 L852.2 742.4 L853.5 742.8 L854.8 742.5 L856.0 742.9 L857.2 742.0 L858.5 741.2 L859.8 742.1 L861.0 742.4 L862.2 741.9 L863.5 742.6 L864.8 743.1 L866.0 742.6 L867.2 742.1 L868.5 742.5 L869.8 742.2 L871.0 742.6 L872.2 742.2 L873.5 742.4 L874.8 742.0 L876.0 743.2 L877.2 742.0 L878.5 742.5 L879.8 742.2 L881.0 742.3 L882.2 741.9 L883.5 741.9 L884.8 742.0 L886.0 742.5 L887.2 742.0 L888.5 742.4 L889.8 742.0 L891.0 742.3 L892.2 742.0 L893.5 742.3 L894.8 741.9 L896.0 742.4 L897.2 741.9 L898.5 742.5 L899.8 742.0 L901.0 742.4 L902.2 741.9 L903.5 742.4 L904.8 742.1 L906.0 742.1 L907.2 741.9 L908.5 742.4 L909.8 742.1 L911.0 742.7 L912.2 742.0 L913.5 742.4 L914.8 741.9 L916.0 742.5 L917.2 742.1 L918.5 742.3 L919.8 742.4 L921.0 742.5 L922.2 742.4 L923.5 742.5 L924.8 741.6 L926.0 742.3 L927.2 741.9 L928.5 742.1 L929.8 741.9 L931.0 742.3 L932.2 742.0 L933.5 742.5 L934.8 742.0 L936.0 742.3 L937.2 742.0 L938.5 741.9 L939.8 742.1 L941.0 742.4 L942.2 742.1 L943.5 742.4 L944.8 742.0 L946.0 742.4 L947.2 742.0 L948.5 742.5 L949.8 742.1 L951.0 742.5 L952.0 742.5 L954.2 722.9 L957.2 747.3 L958.7 721.2 L961.0 747.8 L963.0 721.2 L965.2 748.0 L967.6 721.2 L972.0 745.6 L973.6 741.5 L976.0 742.9 L977.5 742.4 L978.5 742.5 L979.8 741.9 L981.0 742.5 L982.2 741.9 L983.5 742.3 L984.8 741.9 L986.0 742.3 L987.2 741.9 L988.5 742.5 L989.8 741.9 L991.0 742.4 L992.2 742.1 L993.5 742.4 L994.8 742.0 L996.0 742.3 L997.2 742.1 L998.5 742.5 L999.8 741.9 L1001.0 742.3 L1002.2 742.1 L1003.5 742.0 L1004.8 742.1 L1006.0 742.3 L1007.2 742.0 L1008.5 742.4 L1009.8 742.0 L1011.0 742.3 L1012.2 741.9 L1013.5 742.4 L1014.8 741.5 L1016.0 742.4 L1017.2 741.9 L1018.5 742.4 L1019.8 741.9 L1021.0 742.4 L1022.2 741.9 L1023.5 742.7 L1024.8 742.0 L1026.0 741.9 L1027.2 741.9 L1028.5 742.1 L1029.8 742.1 L1031.0 742.5 L1032.2 742.1 L1033.5 742.4 L1034.8 741.9 L1036.0 742.3 L1037.2 742.3 L1038.5 742.3 L1039.8 742.1 L1041.0 742.4 L1042.2 742.4 L1043.5 742.4 L1044.8 742.1 L1046.0 742.5 L1047.2 742.5 L1048.5 742.4 L1049.8 742.1 L1051.0 742.4 L1052.2 741.9 L1053.5 742.4 L1054.8 741.9 L1056.0 742.8 L1057.2 742.0 L1058.5 742.3 L1059.8 741.4 L1061.0 742.5 L1062.2 741.9 L1063.5 742.4 L1064.8 741.9 L1066.0 742.5 L1067.2 742.0 L1068.5 742.4 L1069.8 741.9 L1071.0 742.3 L1072.2 741.9 L1073.5 742.5 L1074.8 742.0 L1076.0 742.5 L1077.2 742.0 L1078.5 742.4 L1079.8 741.7 L1081.0 742.5 L1082.2 742.0 L1083.5 742.5 L1084.8 742.0 L1086.0 741.9 L1087.2 741.9 L1088.5 742.8 L1089.8 741.9 L1091.0 742.4 L1092.2 742.1 L1093.5 742.4 L1094.8 741.6 L1096.0 742.4 L1097.2 742.1 L1098.5 742.4 L1099.8 742.0 L1101.0 742.4 L1102.2 741.9 L1103.5 742.5 L1104.8 742.0 L1106.0 742.4 L1107.2 742.1 L1108.5 742.4 L1109.8 741.9 L1111.0 742.3 L1112.2 741.9 L1113.5 742.5 L1114.8 742.0 L1116.0 742.5 L1117.2 742.4 L1118.5 742.5 L1119.8 742.1 L1121.0 742.3 L1122.2 741.9 L1123.5 742.4 L1124.8 742.1 L1126.0 742.4 L1127.2 742.0 L1128.5 742.4 L1129.8 741.9 L1131.0 742.5 L1132.2 742.1 L1133.5 742.4 L1134.8 741.9 L1136.0 742.4 L1137.2 741.9 L1138.5 742.1 L1139.8 741.9 L1141.0 742.4 L1142.2 741.9 L1143.5 741.9 L1144.8 741.9 L1146.0 742.3 L1147.2 741.9 L1148.5 742.3 L1149.8 740.7 L1151.0 741.0 L1152.2 740.6 L1153.5 741.1 L1154.8 740.5 L1156.0 740.9 L1157.2 740.7 L1158.5 741.0 L1159.8 740.5 L1161.0 742.4 L1162.2 742.4 L1163.5 742.5 L1164.8 741.9 L1166.0 742.4 L1167.2 742.1 L1168.5 742.4 L1169.8 741.5 L1171.0 742.4 L1172.2 742.1 L1173.5 742.4 L1174.8 741.5 L1176.0 742.4 L1177.2 742.0 L1178.5 742.9 L1179.8 742.0 L1181.0 742.4 L1182.2 742.0 L1183.5 742.5 L1184.8 741.9 L1186.0 742.4 L1187.2 741.9 L1188.5 742.4 L1189.8 741.9 L1191.0 742.4 L1192.2 742.1 L1193.5 742.5 L1194.8 742.4 L1196.0 742.5 L1197.2 742.0 L1198.5 742.4 L1199.8 742.3 L1201.0 742.5 L1202.2 742.1 L1203.5 742.5 L1204.8 741.9 L1206.0 742.4 L1207.2 742.1 L1208.5 742.5 L1209.8 741.5 L1211.0 742.3 L1212.2 742.0 L1213.5 742.4 L1214.8 742.0 L1216.0 742.5 L1217.2 743.0 L1218.5 742.5 L1219.8 742.1 L1221.0 742.4 L1222.2 742.0 L1223.5 742.5 L1224.8 742.1 L1226.0 742.4 L1227.2 741.9 L1228.5 742.0 L1229.8 742.0 L1231.0 742.4 L1232.2 742.0 L1233.5 742.5 L1234.8 742.1 L1236.0 742.3 L1237.2 742.1 L1238.5 742.5 L1239.8 742.0 L1241.0 742.5 L1242.2 741.9 L1243.5 741.9 L1244.8 742.0 L1246.0 742.3 L1247.2 742.0 L1248.5 742.5 L1249.8 741.9 L1251.0 742.3 L1252.2 742.5 L1253.5 742.5 L1254.8 741.9 L1256.0 742.5 L1257.2 741.9 L1258.5 742.5" fill="none" stroke="#3a4ee6" stroke-width="1"/><rect x="599" y="720" width="20.5" height="30" fill="rgba(40,42,48,0.55)"/><rect x="659.5" y="720" width="21.5" height="30" fill="rgba(40,42,48,0.55)"/><rect x="940" y="720" width="39" height="30" fill="rgba(40,42,48,0.55)"/><rect x="442.5" y="720" width="848" height="42" rx="3" fill="none" stroke="#666" stroke-width="1.5"/><line x1="442.5" y1="750" x2="1290.5" y2="750" stroke="#666" stroke-width="1.5"/><rect x="443" y="727" width="3.5" height="17" fill="#1a1a1a"/><rect x="1286.5" y="727" width="3.5" height="17" fill="#1a1a1a"/><path d="M865.5 753 v5 M868 753 v5" stroke="#999" stroke-width="1"/><path d="M442.5 769 V764.5 H1290.5 V769" fill="none" stroke="#333" stroke-width="1.4"/><line x1="480.5" y1="764.5" x2="480.5" y2="769" stroke="#333" stroke-width="1.2"/><line x1="523.0" y1="764.5" x2="523.0" y2="769" stroke="#333" stroke-width="1.2"/><line x1="565.5" y1="764.5" x2="565.5" y2="769" stroke="#333" stroke-width="1.2"/><line x1="608.0" y1="764.5" x2="608.0" y2="769" stroke="#333" stroke-width="1.2"/><line x1="650.5" y1="764.5" x2="650.5" y2="769" stroke="#333" stroke-width="1.2"/><line x1="693.0" y1="764.5" x2="693.0" y2="769" stroke="#333" stroke-width="1.2"/><line x1="735.5" y1="764.5" x2="735.5" y2="769" stroke="#333" stroke-width="1.2"/><line x1="778.0" y1="764.5" x2="778.0" y2="769" stroke="#333" stroke-width="1.2"/><line x1="820.5" y1="764.5" x2="820.5" y2="769" stroke="#333" stroke-width="1.2"/><line x1="863.0" y1="764.5" x2="863.0" y2="769" stroke="#333" stroke-width="1.2"/><line x1="905.5" y1="764.5" x2="905.5" y2="769" stroke="#333" stroke-width="1.2"/><line x1="948.0" y1="764.5" x2="948.0" y2="769" stroke="#333" stroke-width="1.2"/><line x1="990.5" y1="764.5" x2="990.5" y2="769" stroke="#333" stroke-width="1.2"/><line x1="1033.0" y1="764.5" x2="1033.0" y2="769" stroke="#333" stroke-width="1.2"/><line x1="1075.5" y1="764.5" x2="1075.5" y2="769" stroke="#333" stroke-width="1.2"/><line x1="1118.0" y1="764.5" x2="1118.0" y2="769" stroke="#333" stroke-width="1.2"/><line x1="1160.5" y1="764.5" x2="1160.5" y2="769" stroke="#333" stroke-width="1.2"/><line x1="1203.0" y1="764.5" x2="1203.0" y2="769" stroke="#333" stroke-width="1.2"/><line x1="1245.5" y1="764.5" x2="1245.5" y2="769" stroke="#333" stroke-width="1.2"/><line x1="1288.0" y1="764.5" x2="1288.0" y2="769" stroke="#333" stroke-width="1.2"/></svg>
<div class="t" style="left:407.97px;top:161.53px;font-size:10px;color:#2b2b2b;">0.986</div>
<div class="t" style="left:419.10px;top:209.53px;font-size:10px;color:#2b2b2b;">0.8</div>
<div class="t" style="left:419.10px;top:261.54px;font-size:10px;color:#2b2b2b;">0.6</div>
<div class="t" style="left:419.10px;top:313.54px;font-size:10px;color:#2b2b2b;">0.4</div>
<div class="t" style="left:419.10px;top:365.54px;font-size:10px;color:#2b2b2b;">0.2</div>
<div class="t" style="left:413.54px;top:396.54px;font-size:10px;color:#2b2b2b;">0.08</div>
<div class="t" style="left:407.97px;top:412.54px;font-size:10px;color:#2b2b2b;">123.5</div>
<div class="t" style="left:407.97px;top:423.54px;font-size:10px;color:#2b2b2b;">123.4</div>
<div class="t" style="left:407.97px;top:466.54px;font-size:10px;color:#2b2b2b;">123.2</div>
<div class="t" style="left:416.31px;top:509.54px;font-size:10px;color:#2b2b2b;">123</div>
<div class="t" style="left:407.97px;top:552.53px;font-size:10px;color:#2b2b2b;">122.8</div>
<div class="t" style="left:407.97px;top:595.53px;font-size:10px;color:#2b2b2b;">122.6</div>
<div class="t" style="left:407.97px;top:638.53px;font-size:10px;color:#2b2b2b;">122.4</div>
<div class="t" style="left:407.97px;top:647.53px;font-size:10px;color:#2b2b2b;">122.4</div>
<div class="t" style="left:464.66px;top:662.03px;font-size:10px;color:#2b2b2b;">29 Dec</div>
<div class="t" style="left:464.66px;top:770.03px;font-size:10px;color:#2b2b2b;">29 Dec</div>
<div class="t" style="left:510.77px;top:662.03px;font-size:10px;color:#2b2b2b;">5 Jan</div>
<div class="t" style="left:510.77px;top:770.03px;font-size:10px;color:#2b2b2b;">5 Jan</div>
<div class="t" style="left:550.49px;top:662.03px;font-size:10px;color:#2b2b2b;">12 Jan</div>
<div class="t" style="left:550.49px;top:770.03px;font-size:10px;color:#2b2b2b;">12 Jan</div>
<div class="t" style="left:592.99px;top:662.03px;font-size:10px;color:#2b2b2b;">19 Jan</div>
<div class="t" style="left:592.99px;top:770.03px;font-size:10px;color:#2b2b2b;">19 Jan</div>
<div class="t" style="left:635.49px;top:662.03px;font-size:10px;color:#2b2b2b;">26 Jan</div>
<div class="t" style="left:635.49px;top:770.03px;font-size:10px;color:#2b2b2b;">26 Jan</div>
<div class="t" style="left:680.21px;top:662.03px;font-size:10px;color:#2b2b2b;">2 Feb</div>
<div class="t" style="left:680.21px;top:770.03px;font-size:10px;color:#2b2b2b;">2 Feb</div>
<div class="t" style="left:722.71px;top:662.03px;font-size:10px;color:#2b2b2b;">9 Feb</div>
<div class="t" style="left:722.71px;top:770.03px;font-size:10px;color:#2b2b2b;">9 Feb</div>
<div class="t" style="left:762.43px;top:662.03px;font-size:10px;color:#2b2b2b;">16 Feb</div>
<div class="t" style="left:762.43px;top:770.03px;font-size:10px;color:#2b2b2b;">16 Feb</div>
<div class="t" style="left:804.93px;top:662.03px;font-size:10px;color:#2b2b2b;">23 Feb</div>
<div class="t" style="left:804.93px;top:770.03px;font-size:10px;color:#2b2b2b;">23 Feb</div>
<div class="t" style="left:850.22px;top:662.03px;font-size:10px;color:#2b2b2b;">2 Mar</div>
<div class="t" style="left:850.22px;top:770.03px;font-size:10px;color:#2b2b2b;">2 Mar</div>
<div class="t" style="left:892.72px;top:662.03px;font-size:10px;color:#2b2b2b;">9 Mar</div>
<div class="t" style="left:892.72px;top:770.03px;font-size:10px;color:#2b2b2b;">9 Mar</div>
<div class="t" style="left:932.44px;top:662.03px;font-size:10px;color:#2b2b2b;">16 Mar</div>
<div class="t" style="left:932.44px;top:770.03px;font-size:10px;color:#2b2b2b;">16 Mar</div>
<div class="t" style="left:974.94px;top:662.03px;font-size:10px;color:#2b2b2b;">23 Mar</div>
<div class="t" style="left:974.94px;top:770.03px;font-size:10px;color:#2b2b2b;">23 Mar</div>
<div class="t" style="left:1017.44px;top:662.03px;font-size:10px;color:#2b2b2b;">30 Mar</div>
<div class="t" style="left:1017.44px;top:770.03px;font-size:10px;color:#2b2b2b;">30 Mar</div>
<div class="t" style="left:1063.82px;top:662.03px;font-size:10px;color:#2b2b2b;">6 Apr</div>
<div class="t" style="left:1063.82px;top:770.03px;font-size:10px;color:#2b2b2b;">6 Apr</div>
<div class="t" style="left:1103.54px;top:662.03px;font-size:10px;color:#2b2b2b;">13 Apr</div>
<div class="t" style="left:1103.54px;top:770.03px;font-size:10px;color:#2b2b2b;">13 Apr</div>
<div class="t" style="left:1146.04px;top:662.03px;font-size:10px;color:#2b2b2b;">20 Apr</div>
<div class="t" style="left:1146.04px;top:770.03px;font-size:10px;color:#2b2b2b;">20 Apr</div>
<div class="t" style="left:1188.54px;top:662.03px;font-size:10px;color:#2b2b2b;">27 Apr</div>
<div class="t" style="left:1188.54px;top:770.03px;font-size:10px;color:#2b2b2b;">27 Apr</div>
<div class="t" style="left:1231.88px;top:662.03px;font-size:10px;color:#2b2b2b;">4 May</div>
<div class="t" style="left:1231.88px;top:770.03px;font-size:10px;color:#2b2b2b;">4 May</div>
<div class="t" style="left:1272.50px;top:662.03px;font-size:10px;color:#2b2b2b;">11 M</div>
<div class="t" style="left:1272.50px;top:770.03px;font-size:10px;color:#2b2b2b;">11 M</div>
<div style="position:absolute;left:1292px;top:660px;width:8px;height:130px;box-sizing:border-box;background:#fff;"></div>
<div style="position:absolute;left:664px;top:396px;width:126px;height:41px;box-sizing:border-box;background:#fff;border:1px solid #e4e4e4;border-radius:6px;box-shadow:0 3px 10px rgba(0,0,0,0.10);"></div>
<svg style="position:absolute;left:680px;top:409px;" width="16" height="14" viewBox="0 0 16 14"><path d="M6.6 1 v12 M9.4 1 v12" stroke="#222" stroke-width="1.3"/><path d="M0.8 7 h3 M15.2 7 h-3" stroke="#222" stroke-width="1.3"/><path d="M5.3 7 l-2.6 -2.6 v5.2z M10.7 7 l2.6 -2.6 v5.2z" fill="#222"/></svg>
<div class="t" style="left:704.00px;top:408.80px;font-size:15px;color:#2b2b2b;transform:scaleX(0.8963);transform-origin:0 0;">Collapse all</div>
<div style="position:absolute;left:389.5px;top:427px;width:15px;height:52px;box-sizing:border-box;background:#fff;border:1px solid #dcdcdc;border-radius:4px;"></div>
<div style="position:absolute;left:390.5px;top:463px;width:13px;height:1px;box-sizing:border-box;background:#e0e0e0;"></div>
<svg style="position:absolute;left:393px;top:433px;" width="8" height="24" viewBox="0 0 8 24"><path d="M2.6 1 v22 M5.6 1 v22" stroke="#888" stroke-width="1"/></svg>
<div class="t" style="left:393.79px;top:465.19px;font-size:11px;color:#888;">×</div>
<div style="position:absolute;left:442.5px;top:680px;width:31.5px;height:31.5px;box-sizing:border-box;background:#fff;border:1px solid #dcdcdc;border-radius:4px;"></div>
<div style="position:absolute;left:478px;top:680px;width:31.69999999999999px;height:31.5px;box-sizing:border-box;background:#fff;border:1px solid #dcdcdc;border-radius:6px;"></div>
<div style="position:absolute;left:514px;top:680px;width:33.60000000000002px;height:31.5px;box-sizing:border-box;background:#fff;border:1px solid #dcdcdc;border-radius:6px;"></div>
<svg style="position:absolute;left:452px;top:688px;" width="12" height="16" viewBox="0 0 12 16"><path d="M7.7 4 L4 8 L7.7 12" fill="none" stroke="#444" stroke-width="1.4"/></svg>
<svg style="position:absolute;left:485.5px;top:687px;" width="17" height="17" viewBox="0 0 17 17"><rect x="1.5" y="2.8" width="13.5" height="13.5" fill="none" stroke="#8a8a8a" stroke-width="1.1"/><path d="M1.5 6.3 h13.5 M5 1.3 v2.8 M11.5 1.3 v2.8" stroke="#8a8a8a" stroke-width="1.3"/><rect x="9.6" y="10.4" width="3.6" height="3.6" fill="#8a8a8a"/></svg>
<svg style="position:absolute;left:521.5px;top:687.5px;" width="17" height="17" viewBox="0 0 17 17"><circle cx="8.5" cy="8.5" r="7" fill="none" stroke="#8a8a8a" stroke-width="1.1"/><path d="M8.5 4 V9 H12" fill="none" stroke="#8a8a8a" stroke-width="1.1"/></svg>
<div style="position:absolute;left:714px;top:680px;width:144.5px;height:31.5px;box-sizing:border-box;background:#fff;border:1px solid #dcdcdc;border-radius:4px;"></div>
<svg style="position:absolute;left:720px;top:686px;" width="20" height="20" viewBox="0 0 20 20"><path d="M3.5 2 V17.7 M3.5 9.4 H17.2 M3.5 17.5 H19" fill="none" stroke="#8a8a8a" stroke-width="1"/><path d="M4.5 9 C6 6.2 8.5 6.2 11 6.2 C13.8 6.2 15.3 4.8 16.3 3.3" fill="none" stroke="#8a8a8a" stroke-width="1.2"/><path d="M4.5 17 C6.2 14.8 8 14.6 10 14 C12.5 13 14 11.6 16.8 11.2" fill="none" stroke="#9a9a9a" stroke-width="1" stroke-dasharray="1.6 0.9"/></svg>
<div class="t" style="left:747.00px;top:688.30px;font-size:15px;color:#2b2b2b;transform:scaleX(0.9129);transform-origin:0 0;">Stacked trend</div>
<svg style="position:absolute;left:836px;top:693px;" width="10" height="7" viewBox="0 0 10 7"><path d="M1.5 1.5 L5 5 L8.5 1.5" fill="none" stroke="#777" stroke-width="1.1"/></svg>
<div style="position:absolute;left:863.5px;top:680px;width:120.0px;height:31.5px;box-sizing:border-box;background:#fff;border:1px solid #dcdcdc;border-radius:4px;"></div>
<div style="position:absolute;left:952px;top:681px;width:1px;height:30px;box-sizing:border-box;background:#dcdcdc;"></div>
<div class="t" style="left:876.00px;top:688.30px;font-size:15px;color:#2b2b2b;transform:scaleX(0.8870);transform-origin:0 0;">± 140 days</div>
<svg style="position:absolute;left:961px;top:686px;" width="14" height="19" viewBox="0 0 14 19"><path d="M5 6.5 V5.2 a2.9 2.9 0 0 1 5.8 0 V5.8" fill="none" stroke="#555" stroke-width="1.4"/><rect x="3" y="7.8" width="10" height="8.6" rx="1.2" fill="none" stroke="#555" stroke-width="1.5"/><circle cx="8" cy="12" r="1.1" fill="#555"/></svg>
<div style="position:absolute;left:988px;top:680px;width:31.5px;height:31.5px;box-sizing:border-box;background:#fff;border:1px solid #dcdcdc;border-radius:4px;"></div>
<svg style="position:absolute;left:995px;top:687px;" width="18" height="18" viewBox="0 0 18 18"><path d="M4.4 9.6 A5.8 5.8 0 1 1 6.2 13.4" fill="none" stroke="#444" stroke-width="1.5"/><path d="M1.6 8.6 h5.6 l-2.8 3.2z" fill="#444"/><path d="M9.6 5.8 V9.2 L11.8 11" fill="none" stroke="#444" stroke-width="1.3"/></svg>
<div style="position:absolute;left:1186.5px;top:680px;width:31.5px;height:31.5px;box-sizing:border-box;background:#fff;border:1px solid #dcdcdc;border-radius:6px;"></div>
<div style="position:absolute;left:1222.5px;top:680px;width:33.0px;height:31.5px;box-sizing:border-box;background:#fff;border:1px solid #dcdcdc;border-radius:6px;"></div>
<div style="position:absolute;left:1260px;top:680px;width:31.700000000000045px;height:31.5px;box-sizing:border-box;background:#fff;border:1px solid #dcdcdc;border-radius:4px;"></div>
<svg style="position:absolute;left:1194px;top:687px;" width="17" height="17" viewBox="0 0 17 17"><rect x="1.5" y="2.8" width="13.5" height="13.5" fill="none" stroke="#8a8a8a" stroke-width="1.1"/><path d="M1.5 6.3 h13.5 M5 1.3 v2.8 M11.5 1.3 v2.8" stroke="#8a8a8a" stroke-width="1.3"/><rect x="9.6" y="10.4" width="3.6" height="3.6" fill="#8a8a8a"/></svg>
<svg style="position:absolute;left:1229.5px;top:687.5px;" width="17" height="17" viewBox="0 0 17 17"><circle cx="8.5" cy="8.5" r="7" fill="none" stroke="#8a8a8a" stroke-width="1.1"/><path d="M8.5 4 V9 H12" fill="none" stroke="#8a8a8a" stroke-width="1.1"/></svg>
<svg style="position:absolute;left:1270px;top:688px;" width="12" height="16" viewBox="0 0 12 16"><path d="M4.3 4 L8 8 L4.3 12" fill="none" stroke="#444" stroke-width="1.4"/></svg>
<div style="position:absolute;left:442.5px;top:788px;width:243px;height:24px;box-sizing:border-box;background:#fff;border:1px solid #dcdcdc;border-radius:4px;"></div>
<div class="t" style="left:451.51px;top:793.62px;font-size:12.5px;color:#2b2b2b;">1D</div>
<div style="position:absolute;left:475.5px;top:789px;width:1px;height:22px;box-sizing:border-box;background:#dcdcdc;"></div>
<div class="t" style="left:484.62px;top:793.62px;font-size:12.5px;color:#2b2b2b;">1W</div>
<div style="position:absolute;left:511.5px;top:789px;width:1px;height:22px;box-sizing:border-box;background:#dcdcdc;"></div>
<div class="t" style="left:520.82px;top:793.62px;font-size:12.5px;color:#2b2b2b;">1M</div>
<div style="position:absolute;left:546.5px;top:789px;width:1px;height:22px;box-sizing:border-box;background:#dcdcdc;"></div>
<div class="t" style="left:555.82px;top:793.62px;font-size:12.5px;color:#2b2b2b;">3M</div>
<div style="position:absolute;left:581.5px;top:789px;width:1px;height:22px;box-sizing:border-box;background:#dcdcdc;"></div>
<div class="t" style="left:590.82px;top:793.62px;font-size:12.5px;color:#2b2b2b;">6M</div>
<div style="position:absolute;left:616.5px;top:789px;width:1px;height:22px;box-sizing:border-box;background:#dcdcdc;"></div>
<div class="t" style="left:625.36px;top:793.62px;font-size:12.5px;color:#2b2b2b;">1Y</div>
<div style="position:absolute;left:648.5px;top:789px;width:1px;height:22px;box-sizing:border-box;background:#dcdcdc;"></div>
<div class="t" style="left:656.38px;top:793.62px;font-size:12.5px;color:#2b2b2b;">ALL</div>
<div style="position:absolute;left:702.5px;top:788px;width:102px;height:24px;box-sizing:border-box;background:#fff;border:1px solid #dcdcdc;border-radius:4px;"></div>
<div style="position:absolute;left:703.5px;top:789px;width:78px;height:22px;box-sizing:border-box;background:#eef4fa;"></div>
<div style="position:absolute;left:781px;top:789px;width:1px;height:22px;box-sizing:border-box;background:#dcdcdc;"></div>
<div class="t" style="left:711.00px;top:793.62px;font-size:12.5px;color:#1565c0;transform:scaleX(0.9363);transform-origin:0 0;">CUSTOM</div>
<svg style="position:absolute;left:767px;top:797px;" width="10" height="7" viewBox="0 0 10 7"><path d="M1.5 1.2 L5 4.7 L8.5 1.2" fill="none" stroke="#1565c0" stroke-width="1.6"/></svg>
<svg style="position:absolute;left:786px;top:793px;" width="14" height="14" viewBox="0 0 14 14"><rect x="1.8" y="2.6" width="10.6" height="8.8" rx="1" fill="none" stroke="#777" stroke-width="1.1"/><path d="M3 4.5 h2 M3 4.5 v2 M11 4.5 h-2 M11 4.5 v2 M3 9.5 h2 M3 9.5 v-2 M11 9.5 h-2 M11 9.5 v-2" stroke="#777" stroke-width="1"/></svg>
</body></html>
